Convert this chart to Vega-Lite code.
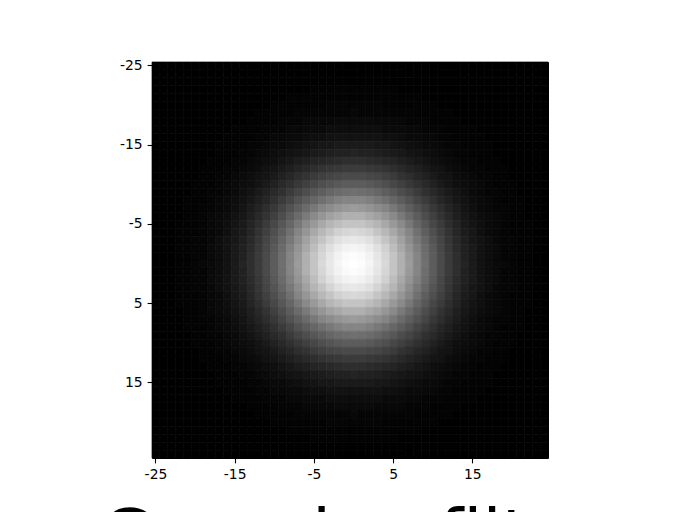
{"$schema":"https://vega.github.io/schema/vega-lite/v6.json","width":396,"height":396,"autosize":{"type":"none"},"padding":{"left":152,"top":62,"right":136,"bottom":54},"background":"white","title":{"text":"Gaussian filter","orient":"bottom","anchor":"middle","font":"DejaVu Sans","fontSize":69,"fontWeight":"normal","color":"black","offset":22},
"data":{"values":[
{"x":-25,"y":-25,"v":0},{"x":-24,"y":-25,"v":0},{"x":-23,"y":-25,"v":0},{"x":-22,"y":-25,"v":0},{"x":-21,"y":-25,"v":0},{"x":-20,"y":-25,"v":0},{"x":-19,"y":-25,"v":0},{"x":-18,"y":-25,"v":0},{"x":-17,"y":-25,"v":0},{"x":-16,"y":-25,"v":0},{"x":-15,"y":-25,"v":0},{"x":-14,"y":-25,"v":0},{"x":-13,"y":-25,"v":0},{"x":-12,"y":-25,"v":0},{"x":-11,"y":-25,"v":0},{"x":-10,"y":-25,"v":0},{"x":-9,"y":-25,"v":0},{"x":-8,"y":-25,"v":0},{"x":-7,"y":-25,"v":0},{"x":-6,"y":-25,"v":0},{"x":-5,"y":-25,"v":0},{"x":-4,"y":-25,"v":0},{"x":-3,"y":-25,"v":0},{"x":-2,"y":-25,"v":0},{"x":-1,"y":-25,"v":0},{"x":0,"y":-25,"v":0},{"x":1,"y":-25,"v":0},{"x":2,"y":-25,"v":0},{"x":3,"y":-25,"v":0},{"x":4,"y":-25,"v":0},{"x":5,"y":-25,"v":0},{"x":6,"y":-25,"v":0},{"x":7,"y":-25,"v":0},{"x":8,"y":-25,"v":0},{"x":9,"y":-25,"v":0},{"x":10,"y":-25,"v":0},{"x":11,"y":-25,"v":0},{"x":12,"y":-25,"v":0},{"x":13,"y":-25,"v":0},{"x":14,"y":-25,"v":0},{"x":15,"y":-25,"v":0},{"x":16,"y":-25,"v":0},{"x":17,"y":-25,"v":0},{"x":18,"y":-25,"v":0},{"x":19,"y":-25,"v":0},{"x":20,"y":-25,"v":0},{"x":21,"y":-25,"v":0},{"x":22,"y":-25,"v":0},{"x":23,"y":-25,"v":0},{"x":24,"y":-25,"v":0},
{"x":-25,"y":-24,"v":0},{"x":-24,"y":-24,"v":0},{"x":-23,"y":-24,"v":0},{"x":-22,"y":-24,"v":0},{"x":-21,"y":-24,"v":0},{"x":-20,"y":-24,"v":0},{"x":-19,"y":-24,"v":0},{"x":-18,"y":-24,"v":0},{"x":-17,"y":-24,"v":0},{"x":-16,"y":-24,"v":0},{"x":-15,"y":-24,"v":0},{"x":-14,"y":-24,"v":0},{"x":-13,"y":-24,"v":0},{"x":-12,"y":-24,"v":0},{"x":-11,"y":-24,"v":0},{"x":-10,"y":-24,"v":0},{"x":-9,"y":-24,"v":0},{"x":-8,"y":-24,"v":0},{"x":-7,"y":-24,"v":0},{"x":-6,"y":-24,"v":0},{"x":-5,"y":-24,"v":0},{"x":-4,"y":-24,"v":0},{"x":-3,"y":-24,"v":0},{"x":-2,"y":-24,"v":0},{"x":-1,"y":-24,"v":0},{"x":0,"y":-24,"v":0},{"x":1,"y":-24,"v":0},{"x":2,"y":-24,"v":0},{"x":3,"y":-24,"v":0},{"x":4,"y":-24,"v":0},{"x":5,"y":-24,"v":0},{"x":6,"y":-24,"v":0},{"x":7,"y":-24,"v":0},{"x":8,"y":-24,"v":0},{"x":9,"y":-24,"v":0},{"x":10,"y":-24,"v":0},{"x":11,"y":-24,"v":0},{"x":12,"y":-24,"v":0},{"x":13,"y":-24,"v":0},{"x":14,"y":-24,"v":0},{"x":15,"y":-24,"v":0},{"x":16,"y":-24,"v":0},{"x":17,"y":-24,"v":0},{"x":18,"y":-24,"v":0},{"x":19,"y":-24,"v":0},{"x":20,"y":-24,"v":0},{"x":21,"y":-24,"v":0},{"x":22,"y":-24,"v":0},{"x":23,"y":-24,"v":0},{"x":24,"y":-24,"v":0},
{"x":-25,"y":-23,"v":0},{"x":-24,"y":-23,"v":0},{"x":-23,"y":-23,"v":0},{"x":-22,"y":-23,"v":0},{"x":-21,"y":-23,"v":0},{"x":-20,"y":-23,"v":0},{"x":-19,"y":-23,"v":0},{"x":-18,"y":-23,"v":0},{"x":-17,"y":-23,"v":0},{"x":-16,"y":-23,"v":0},{"x":-15,"y":-23,"v":0},{"x":-14,"y":-23,"v":0},{"x":-13,"y":-23,"v":0},{"x":-12,"y":-23,"v":0},{"x":-11,"y":-23,"v":0},{"x":-10,"y":-23,"v":0},{"x":-9,"y":-23,"v":0},{"x":-8,"y":-23,"v":0},{"x":-7,"y":-23,"v":0},{"x":-6,"y":-23,"v":0},{"x":-5,"y":-23,"v":0},{"x":-4,"y":-23,"v":0},{"x":-3,"y":-23,"v":0},{"x":-2,"y":-23,"v":0},{"x":-1,"y":-23,"v":0},{"x":0,"y":-23,"v":0},{"x":1,"y":-23,"v":0},{"x":2,"y":-23,"v":0},{"x":3,"y":-23,"v":0},{"x":4,"y":-23,"v":0},{"x":5,"y":-23,"v":0},{"x":6,"y":-23,"v":0},{"x":7,"y":-23,"v":0},{"x":8,"y":-23,"v":0},{"x":9,"y":-23,"v":0},{"x":10,"y":-23,"v":0},{"x":11,"y":-23,"v":0},{"x":12,"y":-23,"v":0},{"x":13,"y":-23,"v":0},{"x":14,"y":-23,"v":0},{"x":15,"y":-23,"v":0},{"x":16,"y":-23,"v":0},{"x":17,"y":-23,"v":0},{"x":18,"y":-23,"v":0},{"x":19,"y":-23,"v":0},{"x":20,"y":-23,"v":0},{"x":21,"y":-23,"v":0},{"x":22,"y":-23,"v":0},{"x":23,"y":-23,"v":0},{"x":24,"y":-23,"v":0},
{"x":-25,"y":-22,"v":0},{"x":-24,"y":-22,"v":0},{"x":-23,"y":-22,"v":0},{"x":-22,"y":-22,"v":0},{"x":-21,"y":-22,"v":0},{"x":-20,"y":-22,"v":0},{"x":-19,"y":-22,"v":0},{"x":-18,"y":-22,"v":0},{"x":-17,"y":-22,"v":0},{"x":-16,"y":-22,"v":0},{"x":-15,"y":-22,"v":0},{"x":-14,"y":-22,"v":0},{"x":-13,"y":-22,"v":0},{"x":-12,"y":-22,"v":0},{"x":-11,"y":-22,"v":0},{"x":-10,"y":-22,"v":0},{"x":-9,"y":-22,"v":0},{"x":-8,"y":-22,"v":0},{"x":-7,"y":-22,"v":0},{"x":-6,"y":-22,"v":0},{"x":-5,"y":-22,"v":1},{"x":-4,"y":-22,"v":1},{"x":-3,"y":-22,"v":1},{"x":-2,"y":-22,"v":1},{"x":-1,"y":-22,"v":1},{"x":0,"y":-22,"v":1},{"x":1,"y":-22,"v":1},{"x":2,"y":-22,"v":1},{"x":3,"y":-22,"v":1},{"x":4,"y":-22,"v":1},{"x":5,"y":-22,"v":1},{"x":6,"y":-22,"v":0},{"x":7,"y":-22,"v":0},{"x":8,"y":-22,"v":0},{"x":9,"y":-22,"v":0},{"x":10,"y":-22,"v":0},{"x":11,"y":-22,"v":0},{"x":12,"y":-22,"v":0},{"x":13,"y":-22,"v":0},{"x":14,"y":-22,"v":0},{"x":15,"y":-22,"v":0},{"x":16,"y":-22,"v":0},{"x":17,"y":-22,"v":0},{"x":18,"y":-22,"v":0},{"x":19,"y":-22,"v":0},{"x":20,"y":-22,"v":0},{"x":21,"y":-22,"v":0},{"x":22,"y":-22,"v":0},{"x":23,"y":-22,"v":0},{"x":24,"y":-22,"v":0},
{"x":-25,"y":-21,"v":0},{"x":-24,"y":-21,"v":0},{"x":-23,"y":-21,"v":0},{"x":-22,"y":-21,"v":0},{"x":-21,"y":-21,"v":0},{"x":-20,"y":-21,"v":0},{"x":-19,"y":-21,"v":0},{"x":-18,"y":-21,"v":0},{"x":-17,"y":-21,"v":0},{"x":-16,"y":-21,"v":0},{"x":-15,"y":-21,"v":0},{"x":-14,"y":-21,"v":0},{"x":-13,"y":-21,"v":0},{"x":-12,"y":-21,"v":0},{"x":-11,"y":-21,"v":0},{"x":-10,"y":-21,"v":0},{"x":-9,"y":-21,"v":0},{"x":-8,"y":-21,"v":1},{"x":-7,"y":-21,"v":1},{"x":-6,"y":-21,"v":1},{"x":-5,"y":-21,"v":1},{"x":-4,"y":-21,"v":1},{"x":-3,"y":-21,"v":1},{"x":-2,"y":-21,"v":1},{"x":-1,"y":-21,"v":1},{"x":0,"y":-21,"v":1},{"x":1,"y":-21,"v":1},{"x":2,"y":-21,"v":1},{"x":3,"y":-21,"v":1},{"x":4,"y":-21,"v":1},{"x":5,"y":-21,"v":1},{"x":6,"y":-21,"v":1},{"x":7,"y":-21,"v":1},{"x":8,"y":-21,"v":1},{"x":9,"y":-21,"v":0},{"x":10,"y":-21,"v":0},{"x":11,"y":-21,"v":0},{"x":12,"y":-21,"v":0},{"x":13,"y":-21,"v":0},{"x":14,"y":-21,"v":0},{"x":15,"y":-21,"v":0},{"x":16,"y":-21,"v":0},{"x":17,"y":-21,"v":0},{"x":18,"y":-21,"v":0},{"x":19,"y":-21,"v":0},{"x":20,"y":-21,"v":0},{"x":21,"y":-21,"v":0},{"x":22,"y":-21,"v":0},{"x":23,"y":-21,"v":0},{"x":24,"y":-21,"v":0},
{"x":-25,"y":-20,"v":0},{"x":-24,"y":-20,"v":0},{"x":-23,"y":-20,"v":0},{"x":-22,"y":-20,"v":0},{"x":-21,"y":-20,"v":0},{"x":-20,"y":-20,"v":0},{"x":-19,"y":-20,"v":0},{"x":-18,"y":-20,"v":0},{"x":-17,"y":-20,"v":0},{"x":-16,"y":-20,"v":0},{"x":-15,"y":-20,"v":0},{"x":-14,"y":-20,"v":0},{"x":-13,"y":-20,"v":0},{"x":-12,"y":-20,"v":0},{"x":-11,"y":-20,"v":0},{"x":-10,"y":-20,"v":1},{"x":-9,"y":-20,"v":1},{"x":-8,"y":-20,"v":1},{"x":-7,"y":-20,"v":1},{"x":-6,"y":-20,"v":1},{"x":-5,"y":-20,"v":1},{"x":-4,"y":-20,"v":1},{"x":-3,"y":-20,"v":2},{"x":-2,"y":-20,"v":2},{"x":-1,"y":-20,"v":2},{"x":0,"y":-20,"v":2},{"x":1,"y":-20,"v":2},{"x":2,"y":-20,"v":2},{"x":3,"y":-20,"v":2},{"x":4,"y":-20,"v":1},{"x":5,"y":-20,"v":1},{"x":6,"y":-20,"v":1},{"x":7,"y":-20,"v":1},{"x":8,"y":-20,"v":1},{"x":9,"y":-20,"v":1},{"x":10,"y":-20,"v":1},{"x":11,"y":-20,"v":0},{"x":12,"y":-20,"v":0},{"x":13,"y":-20,"v":0},{"x":14,"y":-20,"v":0},{"x":15,"y":-20,"v":0},{"x":16,"y":-20,"v":0},{"x":17,"y":-20,"v":0},{"x":18,"y":-20,"v":0},{"x":19,"y":-20,"v":0},{"x":20,"y":-20,"v":0},{"x":21,"y":-20,"v":0},{"x":22,"y":-20,"v":0},{"x":23,"y":-20,"v":0},{"x":24,"y":-20,"v":0},
{"x":-25,"y":-19,"v":0},{"x":-24,"y":-19,"v":0},{"x":-23,"y":-19,"v":0},{"x":-22,"y":-19,"v":0},{"x":-21,"y":-19,"v":0},{"x":-20,"y":-19,"v":0},{"x":-19,"y":-19,"v":0},{"x":-18,"y":-19,"v":0},{"x":-17,"y":-19,"v":0},{"x":-16,"y":-19,"v":0},{"x":-15,"y":-19,"v":0},{"x":-14,"y":-19,"v":0},{"x":-13,"y":-19,"v":0},{"x":-12,"y":-19,"v":1},{"x":-11,"y":-19,"v":1},{"x":-10,"y":-19,"v":1},{"x":-9,"y":-19,"v":1},{"x":-8,"y":-19,"v":1},{"x":-7,"y":-19,"v":2},{"x":-6,"y":-19,"v":2},{"x":-5,"y":-19,"v":2},{"x":-4,"y":-19,"v":2},{"x":-3,"y":-19,"v":2},{"x":-2,"y":-19,"v":2},{"x":-1,"y":-19,"v":2},{"x":0,"y":-19,"v":3},{"x":1,"y":-19,"v":2},{"x":2,"y":-19,"v":2},{"x":3,"y":-19,"v":2},{"x":4,"y":-19,"v":2},{"x":5,"y":-19,"v":2},{"x":6,"y":-19,"v":2},{"x":7,"y":-19,"v":2},{"x":8,"y":-19,"v":1},{"x":9,"y":-19,"v":1},{"x":10,"y":-19,"v":1},{"x":11,"y":-19,"v":1},{"x":12,"y":-19,"v":1},{"x":13,"y":-19,"v":0},{"x":14,"y":-19,"v":0},{"x":15,"y":-19,"v":0},{"x":16,"y":-19,"v":0},{"x":17,"y":-19,"v":0},{"x":18,"y":-19,"v":0},{"x":19,"y":-19,"v":0},{"x":20,"y":-19,"v":0},{"x":21,"y":-19,"v":0},{"x":22,"y":-19,"v":0},{"x":23,"y":-19,"v":0},{"x":24,"y":-19,"v":0},
{"x":-25,"y":-18,"v":0},{"x":-24,"y":-18,"v":0},{"x":-23,"y":-18,"v":0},{"x":-22,"y":-18,"v":0},{"x":-21,"y":-18,"v":0},{"x":-20,"y":-18,"v":0},{"x":-19,"y":-18,"v":0},{"x":-18,"y":-18,"v":0},{"x":-17,"y":-18,"v":0},{"x":-16,"y":-18,"v":0},{"x":-15,"y":-18,"v":0},{"x":-14,"y":-18,"v":0},{"x":-13,"y":-18,"v":1},{"x":-12,"y":-18,"v":1},{"x":-11,"y":-18,"v":1},{"x":-10,"y":-18,"v":1},{"x":-9,"y":-18,"v":2},{"x":-8,"y":-18,"v":2},{"x":-7,"y":-18,"v":2},{"x":-6,"y":-18,"v":3},{"x":-5,"y":-18,"v":3},{"x":-4,"y":-18,"v":3},{"x":-3,"y":-18,"v":3},{"x":-2,"y":-18,"v":4},{"x":-1,"y":-18,"v":4},{"x":0,"y":-18,"v":4},{"x":1,"y":-18,"v":4},{"x":2,"y":-18,"v":4},{"x":3,"y":-18,"v":3},{"x":4,"y":-18,"v":3},{"x":5,"y":-18,"v":3},{"x":6,"y":-18,"v":3},{"x":7,"y":-18,"v":2},{"x":8,"y":-18,"v":2},{"x":9,"y":-18,"v":2},{"x":10,"y":-18,"v":1},{"x":11,"y":-18,"v":1},{"x":12,"y":-18,"v":1},{"x":13,"y":-18,"v":1},{"x":14,"y":-18,"v":0},{"x":15,"y":-18,"v":0},{"x":16,"y":-18,"v":0},{"x":17,"y":-18,"v":0},{"x":18,"y":-18,"v":0},{"x":19,"y":-18,"v":0},{"x":20,"y":-18,"v":0},{"x":21,"y":-18,"v":0},{"x":22,"y":-18,"v":0},{"x":23,"y":-18,"v":0},{"x":24,"y":-18,"v":0},
{"x":-25,"y":-17,"v":0},{"x":-24,"y":-17,"v":0},{"x":-23,"y":-17,"v":0},{"x":-22,"y":-17,"v":0},{"x":-21,"y":-17,"v":0},{"x":-20,"y":-17,"v":0},{"x":-19,"y":-17,"v":0},{"x":-18,"y":-17,"v":0},{"x":-17,"y":-17,"v":0},{"x":-16,"y":-17,"v":0},{"x":-15,"y":-17,"v":1},{"x":-14,"y":-17,"v":1},{"x":-13,"y":-17,"v":1},{"x":-12,"y":-17,"v":1},{"x":-11,"y":-17,"v":2},{"x":-10,"y":-17,"v":2},{"x":-9,"y":-17,"v":2},{"x":-8,"y":-17,"v":3},{"x":-7,"y":-17,"v":3},{"x":-6,"y":-17,"v":4},{"x":-5,"y":-17,"v":4},{"x":-4,"y":-17,"v":4},{"x":-3,"y":-17,"v":5},{"x":-2,"y":-17,"v":5},{"x":-1,"y":-17,"v":5},{"x":0,"y":-17,"v":5},{"x":1,"y":-17,"v":5},{"x":2,"y":-17,"v":5},{"x":3,"y":-17,"v":5},{"x":4,"y":-17,"v":4},{"x":5,"y":-17,"v":4},{"x":6,"y":-17,"v":4},{"x":7,"y":-17,"v":3},{"x":8,"y":-17,"v":3},{"x":9,"y":-17,"v":2},{"x":10,"y":-17,"v":2},{"x":11,"y":-17,"v":2},{"x":12,"y":-17,"v":1},{"x":13,"y":-17,"v":1},{"x":14,"y":-17,"v":1},{"x":15,"y":-17,"v":1},{"x":16,"y":-17,"v":0},{"x":17,"y":-17,"v":0},{"x":18,"y":-17,"v":0},{"x":19,"y":-17,"v":0},{"x":20,"y":-17,"v":0},{"x":21,"y":-17,"v":0},{"x":22,"y":-17,"v":0},{"x":23,"y":-17,"v":0},{"x":24,"y":-17,"v":0},
{"x":-25,"y":-16,"v":0},{"x":-24,"y":-16,"v":0},{"x":-23,"y":-16,"v":0},{"x":-22,"y":-16,"v":0},{"x":-21,"y":-16,"v":0},{"x":-20,"y":-16,"v":0},{"x":-19,"y":-16,"v":0},{"x":-18,"y":-16,"v":0},{"x":-17,"y":-16,"v":0},{"x":-16,"y":-16,"v":1},{"x":-15,"y":-16,"v":1},{"x":-14,"y":-16,"v":1},{"x":-13,"y":-16,"v":1},{"x":-12,"y":-16,"v":2},{"x":-11,"y":-16,"v":2},{"x":-10,"y":-16,"v":3},{"x":-9,"y":-16,"v":3},{"x":-8,"y":-16,"v":4},{"x":-7,"y":-16,"v":4},{"x":-6,"y":-16,"v":5},{"x":-5,"y":-16,"v":6},{"x":-4,"y":-16,"v":6},{"x":-3,"y":-16,"v":7},{"x":-2,"y":-16,"v":7},{"x":-1,"y":-16,"v":7},{"x":0,"y":-16,"v":7},{"x":1,"y":-16,"v":7},{"x":2,"y":-16,"v":7},{"x":3,"y":-16,"v":7},{"x":4,"y":-16,"v":6},{"x":5,"y":-16,"v":6},{"x":6,"y":-16,"v":5},{"x":7,"y":-16,"v":4},{"x":8,"y":-16,"v":4},{"x":9,"y":-16,"v":3},{"x":10,"y":-16,"v":3},{"x":11,"y":-16,"v":2},{"x":12,"y":-16,"v":2},{"x":13,"y":-16,"v":1},{"x":14,"y":-16,"v":1},{"x":15,"y":-16,"v":1},{"x":16,"y":-16,"v":1},{"x":17,"y":-16,"v":0},{"x":18,"y":-16,"v":0},{"x":19,"y":-16,"v":0},{"x":20,"y":-16,"v":0},{"x":21,"y":-16,"v":0},{"x":22,"y":-16,"v":0},{"x":23,"y":-16,"v":0},{"x":24,"y":-16,"v":0},
{"x":-25,"y":-15,"v":0},{"x":-24,"y":-15,"v":0},{"x":-23,"y":-15,"v":0},{"x":-22,"y":-15,"v":0},{"x":-21,"y":-15,"v":0},{"x":-20,"y":-15,"v":0},{"x":-19,"y":-15,"v":0},{"x":-18,"y":-15,"v":0},{"x":-17,"y":-15,"v":1},{"x":-16,"y":-15,"v":1},{"x":-15,"y":-15,"v":1},{"x":-14,"y":-15,"v":1},{"x":-13,"y":-15,"v":2},{"x":-12,"y":-15,"v":2},{"x":-11,"y":-15,"v":3},{"x":-10,"y":-15,"v":4},{"x":-9,"y":-15,"v":4},{"x":-8,"y":-15,"v":5},{"x":-7,"y":-15,"v":6},{"x":-6,"y":-15,"v":7},{"x":-5,"y":-15,"v":8},{"x":-4,"y":-15,"v":9},{"x":-3,"y":-15,"v":9},{"x":-2,"y":-15,"v":10},{"x":-1,"y":-15,"v":10},{"x":0,"y":-15,"v":10},{"x":1,"y":-15,"v":10},{"x":2,"y":-15,"v":10},{"x":3,"y":-15,"v":9},{"x":4,"y":-15,"v":9},{"x":5,"y":-15,"v":8},{"x":6,"y":-15,"v":7},{"x":7,"y":-15,"v":6},{"x":8,"y":-15,"v":5},{"x":9,"y":-15,"v":4},{"x":10,"y":-15,"v":4},{"x":11,"y":-15,"v":3},{"x":12,"y":-15,"v":2},{"x":13,"y":-15,"v":2},{"x":14,"y":-15,"v":1},{"x":15,"y":-15,"v":1},{"x":16,"y":-15,"v":1},{"x":17,"y":-15,"v":1},{"x":18,"y":-15,"v":0},{"x":19,"y":-15,"v":0},{"x":20,"y":-15,"v":0},{"x":21,"y":-15,"v":0},{"x":22,"y":-15,"v":0},{"x":23,"y":-15,"v":0},{"x":24,"y":-15,"v":0},
{"x":-25,"y":-14,"v":0},{"x":-24,"y":-14,"v":0},{"x":-23,"y":-14,"v":0},{"x":-22,"y":-14,"v":0},{"x":-21,"y":-14,"v":0},{"x":-20,"y":-14,"v":0},{"x":-19,"y":-14,"v":0},{"x":-18,"y":-14,"v":0},{"x":-17,"y":-14,"v":1},{"x":-16,"y":-14,"v":1},{"x":-15,"y":-14,"v":1},{"x":-14,"y":-14,"v":2},{"x":-13,"y":-14,"v":2},{"x":-12,"y":-14,"v":3},{"x":-11,"y":-14,"v":4},{"x":-10,"y":-14,"v":5},{"x":-9,"y":-14,"v":6},{"x":-8,"y":-14,"v":7},{"x":-7,"y":-14,"v":8},{"x":-6,"y":-14,"v":9},{"x":-5,"y":-14,"v":10},{"x":-4,"y":-14,"v":11},{"x":-3,"y":-14,"v":12},{"x":-2,"y":-14,"v":13},{"x":-1,"y":-14,"v":13},{"x":0,"y":-14,"v":14},{"x":1,"y":-14,"v":13},{"x":2,"y":-14,"v":13},{"x":3,"y":-14,"v":12},{"x":4,"y":-14,"v":11},{"x":5,"y":-14,"v":10},{"x":6,"y":-14,"v":9},{"x":7,"y":-14,"v":8},{"x":8,"y":-14,"v":7},{"x":9,"y":-14,"v":6},{"x":10,"y":-14,"v":5},{"x":11,"y":-14,"v":4},{"x":12,"y":-14,"v":3},{"x":13,"y":-14,"v":2},{"x":14,"y":-14,"v":2},{"x":15,"y":-14,"v":1},{"x":16,"y":-14,"v":1},{"x":17,"y":-14,"v":1},{"x":18,"y":-14,"v":0},{"x":19,"y":-14,"v":0},{"x":20,"y":-14,"v":0},{"x":21,"y":-14,"v":0},{"x":22,"y":-14,"v":0},{"x":23,"y":-14,"v":0},{"x":24,"y":-14,"v":0},
{"x":-25,"y":-13,"v":0},{"x":-24,"y":-13,"v":0},{"x":-23,"y":-13,"v":0},{"x":-22,"y":-13,"v":0},{"x":-21,"y":-13,"v":0},{"x":-20,"y":-13,"v":0},{"x":-19,"y":-13,"v":0},{"x":-18,"y":-13,"v":1},{"x":-17,"y":-13,"v":1},{"x":-16,"y":-13,"v":1},{"x":-15,"y":-13,"v":2},{"x":-14,"y":-13,"v":2},{"x":-13,"y":-13,"v":3},{"x":-12,"y":-13,"v":4},{"x":-11,"y":-13,"v":5},{"x":-10,"y":-13,"v":6},{"x":-9,"y":-13,"v":8},{"x":-8,"y":-13,"v":9},{"x":-7,"y":-13,"v":11},{"x":-6,"y":-13,"v":12},{"x":-5,"y":-13,"v":14},{"x":-4,"y":-13,"v":15},{"x":-3,"y":-13,"v":16},{"x":-2,"y":-13,"v":17},{"x":-1,"y":-13,"v":18},{"x":0,"y":-13,"v":18},{"x":1,"y":-13,"v":18},{"x":2,"y":-13,"v":17},{"x":3,"y":-13,"v":16},{"x":4,"y":-13,"v":15},{"x":5,"y":-13,"v":14},{"x":6,"y":-13,"v":12},{"x":7,"y":-13,"v":11},{"x":8,"y":-13,"v":9},{"x":9,"y":-13,"v":8},{"x":10,"y":-13,"v":6},{"x":11,"y":-13,"v":5},{"x":12,"y":-13,"v":4},{"x":13,"y":-13,"v":3},{"x":14,"y":-13,"v":2},{"x":15,"y":-13,"v":2},{"x":16,"y":-13,"v":1},{"x":17,"y":-13,"v":1},{"x":18,"y":-13,"v":1},{"x":19,"y":-13,"v":0},{"x":20,"y":-13,"v":0},{"x":21,"y":-13,"v":0},{"x":22,"y":-13,"v":0},{"x":23,"y":-13,"v":0},{"x":24,"y":-13,"v":0},
{"x":-25,"y":-12,"v":0},{"x":-24,"y":-12,"v":0},{"x":-23,"y":-12,"v":0},{"x":-22,"y":-12,"v":0},{"x":-21,"y":-12,"v":0},{"x":-20,"y":-12,"v":0},{"x":-19,"y":-12,"v":1},{"x":-18,"y":-12,"v":1},{"x":-17,"y":-12,"v":1},{"x":-16,"y":-12,"v":2},{"x":-15,"y":-12,"v":2},{"x":-14,"y":-12,"v":3},{"x":-13,"y":-12,"v":4},{"x":-12,"y":-12,"v":5},{"x":-11,"y":-12,"v":7},{"x":-10,"y":-12,"v":8},{"x":-9,"y":-12,"v":10},{"x":-8,"y":-12,"v":12},{"x":-7,"y":-12,"v":14},{"x":-6,"y":-12,"v":16},{"x":-5,"y":-12,"v":18},{"x":-4,"y":-12,"v":20},{"x":-3,"y":-12,"v":21},{"x":-2,"y":-12,"v":22},{"x":-1,"y":-12,"v":23},{"x":0,"y":-12,"v":23},{"x":1,"y":-12,"v":23},{"x":2,"y":-12,"v":22},{"x":3,"y":-12,"v":21},{"x":4,"y":-12,"v":20},{"x":5,"y":-12,"v":18},{"x":6,"y":-12,"v":16},{"x":7,"y":-12,"v":14},{"x":8,"y":-12,"v":12},{"x":9,"y":-12,"v":10},{"x":10,"y":-12,"v":8},{"x":11,"y":-12,"v":7},{"x":12,"y":-12,"v":5},{"x":13,"y":-12,"v":4},{"x":14,"y":-12,"v":3},{"x":15,"y":-12,"v":2},{"x":16,"y":-12,"v":2},{"x":17,"y":-12,"v":1},{"x":18,"y":-12,"v":1},{"x":19,"y":-12,"v":1},{"x":20,"y":-12,"v":0},{"x":21,"y":-12,"v":0},{"x":22,"y":-12,"v":0},{"x":23,"y":-12,"v":0},{"x":24,"y":-12,"v":0},
{"x":-25,"y":-11,"v":0},{"x":-24,"y":-11,"v":0},{"x":-23,"y":-11,"v":0},{"x":-22,"y":-11,"v":0},{"x":-21,"y":-11,"v":0},{"x":-20,"y":-11,"v":0},{"x":-19,"y":-11,"v":1},{"x":-18,"y":-11,"v":1},{"x":-17,"y":-11,"v":2},{"x":-16,"y":-11,"v":2},{"x":-15,"y":-11,"v":3},{"x":-14,"y":-11,"v":4},{"x":-13,"y":-11,"v":5},{"x":-12,"y":-11,"v":7},{"x":-11,"y":-11,"v":8},{"x":-10,"y":-11,"v":10},{"x":-9,"y":-11,"v":13},{"x":-8,"y":-11,"v":15},{"x":-7,"y":-11,"v":18},{"x":-6,"y":-11,"v":20},{"x":-5,"y":-11,"v":23},{"x":-4,"y":-11,"v":25},{"x":-3,"y":-11,"v":27},{"x":-2,"y":-11,"v":28},{"x":-1,"y":-11,"v":29},{"x":0,"y":-11,"v":29},{"x":1,"y":-11,"v":29},{"x":2,"y":-11,"v":28},{"x":3,"y":-11,"v":27},{"x":4,"y":-11,"v":25},{"x":5,"y":-11,"v":23},{"x":6,"y":-11,"v":20},{"x":7,"y":-11,"v":18},{"x":8,"y":-11,"v":15},{"x":9,"y":-11,"v":13},{"x":10,"y":-11,"v":10},{"x":11,"y":-11,"v":8},{"x":12,"y":-11,"v":7},{"x":13,"y":-11,"v":5},{"x":14,"y":-11,"v":4},{"x":15,"y":-11,"v":3},{"x":16,"y":-11,"v":2},{"x":17,"y":-11,"v":2},{"x":18,"y":-11,"v":1},{"x":19,"y":-11,"v":1},{"x":20,"y":-11,"v":0},{"x":21,"y":-11,"v":0},{"x":22,"y":-11,"v":0},{"x":23,"y":-11,"v":0},{"x":24,"y":-11,"v":0},
{"x":-25,"y":-10,"v":0},{"x":-24,"y":-10,"v":0},{"x":-23,"y":-10,"v":0},{"x":-22,"y":-10,"v":0},{"x":-21,"y":-10,"v":0},{"x":-20,"y":-10,"v":1},{"x":-19,"y":-10,"v":1},{"x":-18,"y":-10,"v":1},{"x":-17,"y":-10,"v":2},{"x":-16,"y":-10,"v":3},{"x":-15,"y":-10,"v":4},{"x":-14,"y":-10,"v":5},{"x":-13,"y":-10,"v":6},{"x":-12,"y":-10,"v":8},{"x":-11,"y":-10,"v":10},{"x":-10,"y":-10,"v":13},{"x":-9,"y":-10,"v":16},{"x":-8,"y":-10,"v":19},{"x":-7,"y":-10,"v":22},{"x":-6,"y":-10,"v":25},{"x":-5,"y":-10,"v":28},{"x":-4,"y":-10,"v":31},{"x":-3,"y":-10,"v":33},{"x":-2,"y":-10,"v":35},{"x":-1,"y":-10,"v":36},{"x":0,"y":-10,"v":36},{"x":1,"y":-10,"v":36},{"x":2,"y":-10,"v":35},{"x":3,"y":-10,"v":33},{"x":4,"y":-10,"v":31},{"x":5,"y":-10,"v":28},{"x":6,"y":-10,"v":25},{"x":7,"y":-10,"v":22},{"x":8,"y":-10,"v":19},{"x":9,"y":-10,"v":16},{"x":10,"y":-10,"v":13},{"x":11,"y":-10,"v":10},{"x":12,"y":-10,"v":8},{"x":13,"y":-10,"v":6},{"x":14,"y":-10,"v":5},{"x":15,"y":-10,"v":4},{"x":16,"y":-10,"v":3},{"x":17,"y":-10,"v":2},{"x":18,"y":-10,"v":1},{"x":19,"y":-10,"v":1},{"x":20,"y":-10,"v":1},{"x":21,"y":-10,"v":0},{"x":22,"y":-10,"v":0},{"x":23,"y":-10,"v":0},{"x":24,"y":-10,"v":0},
{"x":-25,"y":-9,"v":0},{"x":-24,"y":-9,"v":0},{"x":-23,"y":-9,"v":0},{"x":-22,"y":-9,"v":0},{"x":-21,"y":-9,"v":0},{"x":-20,"y":-9,"v":1},{"x":-19,"y":-9,"v":1},{"x":-18,"y":-9,"v":2},{"x":-17,"y":-9,"v":2},{"x":-16,"y":-9,"v":3},{"x":-15,"y":-9,"v":4},{"x":-14,"y":-9,"v":6},{"x":-13,"y":-9,"v":8},{"x":-12,"y":-9,"v":10},{"x":-11,"y":-9,"v":13},{"x":-10,"y":-9,"v":16},{"x":-9,"y":-9,"v":19},{"x":-8,"y":-9,"v":23},{"x":-7,"y":-9,"v":27},{"x":-6,"y":-9,"v":30},{"x":-5,"y":-9,"v":34},{"x":-4,"y":-9,"v":37},{"x":-3,"y":-9,"v":40},{"x":-2,"y":-9,"v":42},{"x":-1,"y":-9,"v":43},{"x":0,"y":-9,"v":44},{"x":1,"y":-9,"v":43},{"x":2,"y":-9,"v":42},{"x":3,"y":-9,"v":40},{"x":4,"y":-9,"v":37},{"x":5,"y":-9,"v":34},{"x":6,"y":-9,"v":30},{"x":7,"y":-9,"v":27},{"x":8,"y":-9,"v":23},{"x":9,"y":-9,"v":19},{"x":10,"y":-9,"v":16},{"x":11,"y":-9,"v":13},{"x":12,"y":-9,"v":10},{"x":13,"y":-9,"v":8},{"x":14,"y":-9,"v":6},{"x":15,"y":-9,"v":4},{"x":16,"y":-9,"v":3},{"x":17,"y":-9,"v":2},{"x":18,"y":-9,"v":2},{"x":19,"y":-9,"v":1},{"x":20,"y":-9,"v":1},{"x":21,"y":-9,"v":0},{"x":22,"y":-9,"v":0},{"x":23,"y":-9,"v":0},{"x":24,"y":-9,"v":0},
{"x":-25,"y":-8,"v":0},{"x":-24,"y":-8,"v":0},{"x":-23,"y":-8,"v":0},{"x":-22,"y":-8,"v":0},{"x":-21,"y":-8,"v":1},{"x":-20,"y":-8,"v":1},{"x":-19,"y":-8,"v":1},{"x":-18,"y":-8,"v":2},{"x":-17,"y":-8,"v":3},{"x":-16,"y":-8,"v":4},{"x":-15,"y":-8,"v":5},{"x":-14,"y":-8,"v":7},{"x":-13,"y":-8,"v":9},{"x":-12,"y":-8,"v":12},{"x":-11,"y":-8,"v":15},{"x":-10,"y":-8,"v":19},{"x":-9,"y":-8,"v":23},{"x":-8,"y":-8,"v":27},{"x":-7,"y":-8,"v":32},{"x":-6,"y":-8,"v":36},{"x":-5,"y":-8,"v":40},{"x":-4,"y":-8,"v":44},{"x":-3,"y":-8,"v":47},{"x":-2,"y":-8,"v":50},{"x":-1,"y":-8,"v":52},{"x":0,"y":-8,"v":52},{"x":1,"y":-8,"v":52},{"x":2,"y":-8,"v":50},{"x":3,"y":-8,"v":47},{"x":4,"y":-8,"v":44},{"x":5,"y":-8,"v":40},{"x":6,"y":-8,"v":36},{"x":7,"y":-8,"v":32},{"x":8,"y":-8,"v":27},{"x":9,"y":-8,"v":23},{"x":10,"y":-8,"v":19},{"x":11,"y":-8,"v":15},{"x":12,"y":-8,"v":12},{"x":13,"y":-8,"v":9},{"x":14,"y":-8,"v":7},{"x":15,"y":-8,"v":5},{"x":16,"y":-8,"v":4},{"x":17,"y":-8,"v":3},{"x":18,"y":-8,"v":2},{"x":19,"y":-8,"v":1},{"x":20,"y":-8,"v":1},{"x":21,"y":-8,"v":1},{"x":22,"y":-8,"v":0},{"x":23,"y":-8,"v":0},{"x":24,"y":-8,"v":0},
{"x":-25,"y":-7,"v":0},{"x":-24,"y":-7,"v":0},{"x":-23,"y":-7,"v":0},{"x":-22,"y":-7,"v":0},{"x":-21,"y":-7,"v":1},{"x":-20,"y":-7,"v":1},{"x":-19,"y":-7,"v":2},{"x":-18,"y":-7,"v":2},{"x":-17,"y":-7,"v":3},{"x":-16,"y":-7,"v":4},{"x":-15,"y":-7,"v":6},{"x":-14,"y":-7,"v":8},{"x":-13,"y":-7,"v":11},{"x":-12,"y":-7,"v":14},{"x":-11,"y":-7,"v":18},{"x":-10,"y":-7,"v":22},{"x":-9,"y":-7,"v":27},{"x":-8,"y":-7,"v":32},{"x":-7,"y":-7,"v":37},{"x":-6,"y":-7,"v":42},{"x":-5,"y":-7,"v":47},{"x":-4,"y":-7,"v":52},{"x":-3,"y":-7,"v":55},{"x":-2,"y":-7,"v":58},{"x":-1,"y":-7,"v":60},{"x":0,"y":-7,"v":61},{"x":1,"y":-7,"v":60},{"x":2,"y":-7,"v":58},{"x":3,"y":-7,"v":55},{"x":4,"y":-7,"v":52},{"x":5,"y":-7,"v":47},{"x":6,"y":-7,"v":42},{"x":7,"y":-7,"v":37},{"x":8,"y":-7,"v":32},{"x":9,"y":-7,"v":27},{"x":10,"y":-7,"v":22},{"x":11,"y":-7,"v":18},{"x":12,"y":-7,"v":14},{"x":13,"y":-7,"v":11},{"x":14,"y":-7,"v":8},{"x":15,"y":-7,"v":6},{"x":16,"y":-7,"v":4},{"x":17,"y":-7,"v":3},{"x":18,"y":-7,"v":2},{"x":19,"y":-7,"v":2},{"x":20,"y":-7,"v":1},{"x":21,"y":-7,"v":1},{"x":22,"y":-7,"v":0},{"x":23,"y":-7,"v":0},{"x":24,"y":-7,"v":0},
{"x":-25,"y":-6,"v":0},{"x":-24,"y":-6,"v":0},{"x":-23,"y":-6,"v":0},{"x":-22,"y":-6,"v":0},{"x":-21,"y":-6,"v":1},{"x":-20,"y":-6,"v":1},{"x":-19,"y":-6,"v":2},{"x":-18,"y":-6,"v":3},{"x":-17,"y":-6,"v":4},{"x":-16,"y":-6,"v":5},{"x":-15,"y":-6,"v":7},{"x":-14,"y":-6,"v":9},{"x":-13,"y":-6,"v":12},{"x":-12,"y":-6,"v":16},{"x":-11,"y":-6,"v":20},{"x":-10,"y":-6,"v":25},{"x":-9,"y":-6,"v":30},{"x":-8,"y":-6,"v":36},{"x":-7,"y":-6,"v":42},{"x":-6,"y":-6,"v":48},{"x":-5,"y":-6,"v":54},{"x":-4,"y":-6,"v":59},{"x":-3,"y":-6,"v":63},{"x":-2,"y":-6,"v":66},{"x":-1,"y":-6,"v":69},{"x":0,"y":-6,"v":69},{"x":1,"y":-6,"v":69},{"x":2,"y":-6,"v":66},{"x":3,"y":-6,"v":63},{"x":4,"y":-6,"v":59},{"x":5,"y":-6,"v":54},{"x":6,"y":-6,"v":48},{"x":7,"y":-6,"v":42},{"x":8,"y":-6,"v":36},{"x":9,"y":-6,"v":30},{"x":10,"y":-6,"v":25},{"x":11,"y":-6,"v":20},{"x":12,"y":-6,"v":16},{"x":13,"y":-6,"v":12},{"x":14,"y":-6,"v":9},{"x":15,"y":-6,"v":7},{"x":16,"y":-6,"v":5},{"x":17,"y":-6,"v":4},{"x":18,"y":-6,"v":3},{"x":19,"y":-6,"v":2},{"x":20,"y":-6,"v":1},{"x":21,"y":-6,"v":1},{"x":22,"y":-6,"v":0},{"x":23,"y":-6,"v":0},{"x":24,"y":-6,"v":0},
{"x":-25,"y":-5,"v":0},{"x":-24,"y":-5,"v":0},{"x":-23,"y":-5,"v":0},{"x":-22,"y":-5,"v":1},{"x":-21,"y":-5,"v":1},{"x":-20,"y":-5,"v":1},{"x":-19,"y":-5,"v":2},{"x":-18,"y":-5,"v":3},{"x":-17,"y":-5,"v":4},{"x":-16,"y":-5,"v":6},{"x":-15,"y":-5,"v":8},{"x":-14,"y":-5,"v":10},{"x":-13,"y":-5,"v":14},{"x":-12,"y":-5,"v":18},{"x":-11,"y":-5,"v":23},{"x":-10,"y":-5,"v":28},{"x":-9,"y":-5,"v":34},{"x":-8,"y":-5,"v":40},{"x":-7,"y":-5,"v":47},{"x":-6,"y":-5,"v":54},{"x":-5,"y":-5,"v":60},{"x":-4,"y":-5,"v":66},{"x":-3,"y":-5,"v":71},{"x":-2,"y":-5,"v":74},{"x":-1,"y":-5,"v":77},{"x":0,"y":-5,"v":77},{"x":1,"y":-5,"v":77},{"x":2,"y":-5,"v":74},{"x":3,"y":-5,"v":71},{"x":4,"y":-5,"v":66},{"x":5,"y":-5,"v":60},{"x":6,"y":-5,"v":54},{"x":7,"y":-5,"v":47},{"x":8,"y":-5,"v":40},{"x":9,"y":-5,"v":34},{"x":10,"y":-5,"v":28},{"x":11,"y":-5,"v":23},{"x":12,"y":-5,"v":18},{"x":13,"y":-5,"v":14},{"x":14,"y":-5,"v":10},{"x":15,"y":-5,"v":8},{"x":16,"y":-5,"v":6},{"x":17,"y":-5,"v":4},{"x":18,"y":-5,"v":3},{"x":19,"y":-5,"v":2},{"x":20,"y":-5,"v":1},{"x":21,"y":-5,"v":1},{"x":22,"y":-5,"v":1},{"x":23,"y":-5,"v":0},{"x":24,"y":-5,"v":0},
{"x":-25,"y":-4,"v":0},{"x":-24,"y":-4,"v":0},{"x":-23,"y":-4,"v":0},{"x":-22,"y":-4,"v":1},{"x":-21,"y":-4,"v":1},{"x":-20,"y":-4,"v":1},{"x":-19,"y":-4,"v":2},{"x":-18,"y":-4,"v":3},{"x":-17,"y":-4,"v":4},{"x":-16,"y":-4,"v":6},{"x":-15,"y":-4,"v":9},{"x":-14,"y":-4,"v":11},{"x":-13,"y":-4,"v":15},{"x":-12,"y":-4,"v":20},{"x":-11,"y":-4,"v":25},{"x":-10,"y":-4,"v":31},{"x":-9,"y":-4,"v":37},{"x":-8,"y":-4,"v":44},{"x":-7,"y":-4,"v":52},{"x":-6,"y":-4,"v":59},{"x":-5,"y":-4,"v":66},{"x":-4,"y":-4,"v":72},{"x":-3,"y":-4,"v":77},{"x":-2,"y":-4,"v":82},{"x":-1,"y":-4,"v":84},{"x":0,"y":-4,"v":85},{"x":1,"y":-4,"v":84},{"x":2,"y":-4,"v":82},{"x":3,"y":-4,"v":77},{"x":4,"y":-4,"v":72},{"x":5,"y":-4,"v":66},{"x":6,"y":-4,"v":59},{"x":7,"y":-4,"v":52},{"x":8,"y":-4,"v":44},{"x":9,"y":-4,"v":37},{"x":10,"y":-4,"v":31},{"x":11,"y":-4,"v":25},{"x":12,"y":-4,"v":20},{"x":13,"y":-4,"v":15},{"x":14,"y":-4,"v":11},{"x":15,"y":-4,"v":9},{"x":16,"y":-4,"v":6},{"x":17,"y":-4,"v":4},{"x":18,"y":-4,"v":3},{"x":19,"y":-4,"v":2},{"x":20,"y":-4,"v":1},{"x":21,"y":-4,"v":1},{"x":22,"y":-4,"v":1},{"x":23,"y":-4,"v":0},{"x":24,"y":-4,"v":0},
{"x":-25,"y":-3,"v":0},{"x":-24,"y":-3,"v":0},{"x":-23,"y":-3,"v":0},{"x":-22,"y":-3,"v":1},{"x":-21,"y":-3,"v":1},{"x":-20,"y":-3,"v":2},{"x":-19,"y":-3,"v":2},{"x":-18,"y":-3,"v":3},{"x":-17,"y":-3,"v":5},{"x":-16,"y":-3,"v":7},{"x":-15,"y":-3,"v":9},{"x":-14,"y":-3,"v":12},{"x":-13,"y":-3,"v":16},{"x":-12,"y":-3,"v":21},{"x":-11,"y":-3,"v":27},{"x":-10,"y":-3,"v":33},{"x":-9,"y":-3,"v":40},{"x":-8,"y":-3,"v":47},{"x":-7,"y":-3,"v":55},{"x":-6,"y":-3,"v":63},{"x":-5,"y":-3,"v":71},{"x":-4,"y":-3,"v":77},{"x":-3,"y":-3,"v":83},{"x":-2,"y":-3,"v":88},{"x":-1,"y":-3,"v":90},{"x":0,"y":-3,"v":91},{"x":1,"y":-3,"v":90},{"x":2,"y":-3,"v":88},{"x":3,"y":-3,"v":83},{"x":4,"y":-3,"v":77},{"x":5,"y":-3,"v":71},{"x":6,"y":-3,"v":63},{"x":7,"y":-3,"v":55},{"x":8,"y":-3,"v":47},{"x":9,"y":-3,"v":40},{"x":10,"y":-3,"v":33},{"x":11,"y":-3,"v":27},{"x":12,"y":-3,"v":21},{"x":13,"y":-3,"v":16},{"x":14,"y":-3,"v":12},{"x":15,"y":-3,"v":9},{"x":16,"y":-3,"v":7},{"x":17,"y":-3,"v":5},{"x":18,"y":-3,"v":3},{"x":19,"y":-3,"v":2},{"x":20,"y":-3,"v":2},{"x":21,"y":-3,"v":1},{"x":22,"y":-3,"v":1},{"x":23,"y":-3,"v":0},{"x":24,"y":-3,"v":0},
{"x":-25,"y":-2,"v":0},{"x":-24,"y":-2,"v":0},{"x":-23,"y":-2,"v":0},{"x":-22,"y":-2,"v":1},{"x":-21,"y":-2,"v":1},{"x":-20,"y":-2,"v":2},{"x":-19,"y":-2,"v":2},{"x":-18,"y":-2,"v":4},{"x":-17,"y":-2,"v":5},{"x":-16,"y":-2,"v":7},{"x":-15,"y":-2,"v":10},{"x":-14,"y":-2,"v":13},{"x":-13,"y":-2,"v":17},{"x":-12,"y":-2,"v":22},{"x":-11,"y":-2,"v":28},{"x":-10,"y":-2,"v":35},{"x":-9,"y":-2,"v":42},{"x":-8,"y":-2,"v":50},{"x":-7,"y":-2,"v":58},{"x":-6,"y":-2,"v":66},{"x":-5,"y":-2,"v":74},{"x":-4,"y":-2,"v":82},{"x":-3,"y":-2,"v":88},{"x":-2,"y":-2,"v":92},{"x":-1,"y":-2,"v":95},{"x":0,"y":-2,"v":96},{"x":1,"y":-2,"v":95},{"x":2,"y":-2,"v":92},{"x":3,"y":-2,"v":88},{"x":4,"y":-2,"v":82},{"x":5,"y":-2,"v":74},{"x":6,"y":-2,"v":66},{"x":7,"y":-2,"v":58},{"x":8,"y":-2,"v":50},{"x":9,"y":-2,"v":42},{"x":10,"y":-2,"v":35},{"x":11,"y":-2,"v":28},{"x":12,"y":-2,"v":22},{"x":13,"y":-2,"v":17},{"x":14,"y":-2,"v":13},{"x":15,"y":-2,"v":10},{"x":16,"y":-2,"v":7},{"x":17,"y":-2,"v":5},{"x":18,"y":-2,"v":4},{"x":19,"y":-2,"v":2},{"x":20,"y":-2,"v":2},{"x":21,"y":-2,"v":1},{"x":22,"y":-2,"v":1},{"x":23,"y":-2,"v":0},{"x":24,"y":-2,"v":0},
{"x":-25,"y":-1,"v":0},{"x":-24,"y":-1,"v":0},{"x":-23,"y":-1,"v":0},{"x":-22,"y":-1,"v":1},{"x":-21,"y":-1,"v":1},{"x":-20,"y":-1,"v":2},{"x":-19,"y":-1,"v":2},{"x":-18,"y":-1,"v":4},{"x":-17,"y":-1,"v":5},{"x":-16,"y":-1,"v":7},{"x":-15,"y":-1,"v":10},{"x":-14,"y":-1,"v":13},{"x":-13,"y":-1,"v":18},{"x":-12,"y":-1,"v":23},{"x":-11,"y":-1,"v":29},{"x":-10,"y":-1,"v":36},{"x":-9,"y":-1,"v":43},{"x":-8,"y":-1,"v":52},{"x":-7,"y":-1,"v":60},{"x":-6,"y":-1,"v":69},{"x":-5,"y":-1,"v":77},{"x":-4,"y":-1,"v":84},{"x":-3,"y":-1,"v":90},{"x":-2,"y":-1,"v":95},{"x":-1,"y":-1,"v":98},{"x":0,"y":-1,"v":99},{"x":1,"y":-1,"v":98},{"x":2,"y":-1,"v":95},{"x":3,"y":-1,"v":90},{"x":4,"y":-1,"v":84},{"x":5,"y":-1,"v":77},{"x":6,"y":-1,"v":69},{"x":7,"y":-1,"v":60},{"x":8,"y":-1,"v":52},{"x":9,"y":-1,"v":43},{"x":10,"y":-1,"v":36},{"x":11,"y":-1,"v":29},{"x":12,"y":-1,"v":23},{"x":13,"y":-1,"v":18},{"x":14,"y":-1,"v":13},{"x":15,"y":-1,"v":10},{"x":16,"y":-1,"v":7},{"x":17,"y":-1,"v":5},{"x":18,"y":-1,"v":4},{"x":19,"y":-1,"v":2},{"x":20,"y":-1,"v":2},{"x":21,"y":-1,"v":1},{"x":22,"y":-1,"v":1},{"x":23,"y":-1,"v":0},{"x":24,"y":-1,"v":0},
{"x":-25,"y":0,"v":0},{"x":-24,"y":0,"v":0},{"x":-23,"y":0,"v":0},{"x":-22,"y":0,"v":1},{"x":-21,"y":0,"v":1},{"x":-20,"y":0,"v":2},{"x":-19,"y":0,"v":3},{"x":-18,"y":0,"v":4},{"x":-17,"y":0,"v":5},{"x":-16,"y":0,"v":7},{"x":-15,"y":0,"v":10},{"x":-14,"y":0,"v":14},{"x":-13,"y":0,"v":18},{"x":-12,"y":0,"v":23},{"x":-11,"y":0,"v":29},{"x":-10,"y":0,"v":36},{"x":-9,"y":0,"v":44},{"x":-8,"y":0,"v":52},{"x":-7,"y":0,"v":61},{"x":-6,"y":0,"v":69},{"x":-5,"y":0,"v":77},{"x":-4,"y":0,"v":85},{"x":-3,"y":0,"v":91},{"x":-2,"y":0,"v":96},{"x":-1,"y":0,"v":99},{"x":0,"y":0,"v":100},{"x":1,"y":0,"v":99},{"x":2,"y":0,"v":96},{"x":3,"y":0,"v":91},{"x":4,"y":0,"v":85},{"x":5,"y":0,"v":77},{"x":6,"y":0,"v":69},{"x":7,"y":0,"v":61},{"x":8,"y":0,"v":52},{"x":9,"y":0,"v":44},{"x":10,"y":0,"v":36},{"x":11,"y":0,"v":29},{"x":12,"y":0,"v":23},{"x":13,"y":0,"v":18},{"x":14,"y":0,"v":14},{"x":15,"y":0,"v":10},{"x":16,"y":0,"v":7},{"x":17,"y":0,"v":5},{"x":18,"y":0,"v":4},{"x":19,"y":0,"v":3},{"x":20,"y":0,"v":2},{"x":21,"y":0,"v":1},{"x":22,"y":0,"v":1},{"x":23,"y":0,"v":0},{"x":24,"y":0,"v":0},
{"x":-25,"y":1,"v":0},{"x":-24,"y":1,"v":0},{"x":-23,"y":1,"v":0},{"x":-22,"y":1,"v":1},{"x":-21,"y":1,"v":1},{"x":-20,"y":1,"v":2},{"x":-19,"y":1,"v":2},{"x":-18,"y":1,"v":4},{"x":-17,"y":1,"v":5},{"x":-16,"y":1,"v":7},{"x":-15,"y":1,"v":10},{"x":-14,"y":1,"v":13},{"x":-13,"y":1,"v":18},{"x":-12,"y":1,"v":23},{"x":-11,"y":1,"v":29},{"x":-10,"y":1,"v":36},{"x":-9,"y":1,"v":43},{"x":-8,"y":1,"v":52},{"x":-7,"y":1,"v":60},{"x":-6,"y":1,"v":69},{"x":-5,"y":1,"v":77},{"x":-4,"y":1,"v":84},{"x":-3,"y":1,"v":90},{"x":-2,"y":1,"v":95},{"x":-1,"y":1,"v":98},{"x":0,"y":1,"v":99},{"x":1,"y":1,"v":98},{"x":2,"y":1,"v":95},{"x":3,"y":1,"v":90},{"x":4,"y":1,"v":84},{"x":5,"y":1,"v":77},{"x":6,"y":1,"v":69},{"x":7,"y":1,"v":60},{"x":8,"y":1,"v":52},{"x":9,"y":1,"v":43},{"x":10,"y":1,"v":36},{"x":11,"y":1,"v":29},{"x":12,"y":1,"v":23},{"x":13,"y":1,"v":18},{"x":14,"y":1,"v":13},{"x":15,"y":1,"v":10},{"x":16,"y":1,"v":7},{"x":17,"y":1,"v":5},{"x":18,"y":1,"v":4},{"x":19,"y":1,"v":2},{"x":20,"y":1,"v":2},{"x":21,"y":1,"v":1},{"x":22,"y":1,"v":1},{"x":23,"y":1,"v":0},{"x":24,"y":1,"v":0},
{"x":-25,"y":2,"v":0},{"x":-24,"y":2,"v":0},{"x":-23,"y":2,"v":0},{"x":-22,"y":2,"v":1},{"x":-21,"y":2,"v":1},{"x":-20,"y":2,"v":2},{"x":-19,"y":2,"v":2},{"x":-18,"y":2,"v":4},{"x":-17,"y":2,"v":5},{"x":-16,"y":2,"v":7},{"x":-15,"y":2,"v":10},{"x":-14,"y":2,"v":13},{"x":-13,"y":2,"v":17},{"x":-12,"y":2,"v":22},{"x":-11,"y":2,"v":28},{"x":-10,"y":2,"v":35},{"x":-9,"y":2,"v":42},{"x":-8,"y":2,"v":50},{"x":-7,"y":2,"v":58},{"x":-6,"y":2,"v":66},{"x":-5,"y":2,"v":74},{"x":-4,"y":2,"v":82},{"x":-3,"y":2,"v":88},{"x":-2,"y":2,"v":92},{"x":-1,"y":2,"v":95},{"x":0,"y":2,"v":96},{"x":1,"y":2,"v":95},{"x":2,"y":2,"v":92},{"x":3,"y":2,"v":88},{"x":4,"y":2,"v":82},{"x":5,"y":2,"v":74},{"x":6,"y":2,"v":66},{"x":7,"y":2,"v":58},{"x":8,"y":2,"v":50},{"x":9,"y":2,"v":42},{"x":10,"y":2,"v":35},{"x":11,"y":2,"v":28},{"x":12,"y":2,"v":22},{"x":13,"y":2,"v":17},{"x":14,"y":2,"v":13},{"x":15,"y":2,"v":10},{"x":16,"y":2,"v":7},{"x":17,"y":2,"v":5},{"x":18,"y":2,"v":4},{"x":19,"y":2,"v":2},{"x":20,"y":2,"v":2},{"x":21,"y":2,"v":1},{"x":22,"y":2,"v":1},{"x":23,"y":2,"v":0},{"x":24,"y":2,"v":0},
{"x":-25,"y":3,"v":0},{"x":-24,"y":3,"v":0},{"x":-23,"y":3,"v":0},{"x":-22,"y":3,"v":1},{"x":-21,"y":3,"v":1},{"x":-20,"y":3,"v":2},{"x":-19,"y":3,"v":2},{"x":-18,"y":3,"v":3},{"x":-17,"y":3,"v":5},{"x":-16,"y":3,"v":7},{"x":-15,"y":3,"v":9},{"x":-14,"y":3,"v":12},{"x":-13,"y":3,"v":16},{"x":-12,"y":3,"v":21},{"x":-11,"y":3,"v":27},{"x":-10,"y":3,"v":33},{"x":-9,"y":3,"v":40},{"x":-8,"y":3,"v":47},{"x":-7,"y":3,"v":55},{"x":-6,"y":3,"v":63},{"x":-5,"y":3,"v":71},{"x":-4,"y":3,"v":77},{"x":-3,"y":3,"v":83},{"x":-2,"y":3,"v":88},{"x":-1,"y":3,"v":90},{"x":0,"y":3,"v":91},{"x":1,"y":3,"v":90},{"x":2,"y":3,"v":88},{"x":3,"y":3,"v":83},{"x":4,"y":3,"v":77},{"x":5,"y":3,"v":71},{"x":6,"y":3,"v":63},{"x":7,"y":3,"v":55},{"x":8,"y":3,"v":47},{"x":9,"y":3,"v":40},{"x":10,"y":3,"v":33},{"x":11,"y":3,"v":27},{"x":12,"y":3,"v":21},{"x":13,"y":3,"v":16},{"x":14,"y":3,"v":12},{"x":15,"y":3,"v":9},{"x":16,"y":3,"v":7},{"x":17,"y":3,"v":5},{"x":18,"y":3,"v":3},{"x":19,"y":3,"v":2},{"x":20,"y":3,"v":2},{"x":21,"y":3,"v":1},{"x":22,"y":3,"v":1},{"x":23,"y":3,"v":0},{"x":24,"y":3,"v":0},
{"x":-25,"y":4,"v":0},{"x":-24,"y":4,"v":0},{"x":-23,"y":4,"v":0},{"x":-22,"y":4,"v":1},{"x":-21,"y":4,"v":1},{"x":-20,"y":4,"v":1},{"x":-19,"y":4,"v":2},{"x":-18,"y":4,"v":3},{"x":-17,"y":4,"v":4},{"x":-16,"y":4,"v":6},{"x":-15,"y":4,"v":9},{"x":-14,"y":4,"v":11},{"x":-13,"y":4,"v":15},{"x":-12,"y":4,"v":20},{"x":-11,"y":4,"v":25},{"x":-10,"y":4,"v":31},{"x":-9,"y":4,"v":37},{"x":-8,"y":4,"v":44},{"x":-7,"y":4,"v":52},{"x":-6,"y":4,"v":59},{"x":-5,"y":4,"v":66},{"x":-4,"y":4,"v":72},{"x":-3,"y":4,"v":77},{"x":-2,"y":4,"v":82},{"x":-1,"y":4,"v":84},{"x":0,"y":4,"v":85},{"x":1,"y":4,"v":84},{"x":2,"y":4,"v":82},{"x":3,"y":4,"v":77},{"x":4,"y":4,"v":72},{"x":5,"y":4,"v":66},{"x":6,"y":4,"v":59},{"x":7,"y":4,"v":52},{"x":8,"y":4,"v":44},{"x":9,"y":4,"v":37},{"x":10,"y":4,"v":31},{"x":11,"y":4,"v":25},{"x":12,"y":4,"v":20},{"x":13,"y":4,"v":15},{"x":14,"y":4,"v":11},{"x":15,"y":4,"v":9},{"x":16,"y":4,"v":6},{"x":17,"y":4,"v":4},{"x":18,"y":4,"v":3},{"x":19,"y":4,"v":2},{"x":20,"y":4,"v":1},{"x":21,"y":4,"v":1},{"x":22,"y":4,"v":1},{"x":23,"y":4,"v":0},{"x":24,"y":4,"v":0},
{"x":-25,"y":5,"v":0},{"x":-24,"y":5,"v":0},{"x":-23,"y":5,"v":0},{"x":-22,"y":5,"v":1},{"x":-21,"y":5,"v":1},{"x":-20,"y":5,"v":1},{"x":-19,"y":5,"v":2},{"x":-18,"y":5,"v":3},{"x":-17,"y":5,"v":4},{"x":-16,"y":5,"v":6},{"x":-15,"y":5,"v":8},{"x":-14,"y":5,"v":10},{"x":-13,"y":5,"v":14},{"x":-12,"y":5,"v":18},{"x":-11,"y":5,"v":23},{"x":-10,"y":5,"v":28},{"x":-9,"y":5,"v":34},{"x":-8,"y":5,"v":40},{"x":-7,"y":5,"v":47},{"x":-6,"y":5,"v":54},{"x":-5,"y":5,"v":60},{"x":-4,"y":5,"v":66},{"x":-3,"y":5,"v":71},{"x":-2,"y":5,"v":74},{"x":-1,"y":5,"v":77},{"x":0,"y":5,"v":77},{"x":1,"y":5,"v":77},{"x":2,"y":5,"v":74},{"x":3,"y":5,"v":71},{"x":4,"y":5,"v":66},{"x":5,"y":5,"v":60},{"x":6,"y":5,"v":54},{"x":7,"y":5,"v":47},{"x":8,"y":5,"v":40},{"x":9,"y":5,"v":34},{"x":10,"y":5,"v":28},{"x":11,"y":5,"v":23},{"x":12,"y":5,"v":18},{"x":13,"y":5,"v":14},{"x":14,"y":5,"v":10},{"x":15,"y":5,"v":8},{"x":16,"y":5,"v":6},{"x":17,"y":5,"v":4},{"x":18,"y":5,"v":3},{"x":19,"y":5,"v":2},{"x":20,"y":5,"v":1},{"x":21,"y":5,"v":1},{"x":22,"y":5,"v":1},{"x":23,"y":5,"v":0},{"x":24,"y":5,"v":0},
{"x":-25,"y":6,"v":0},{"x":-24,"y":6,"v":0},{"x":-23,"y":6,"v":0},{"x":-22,"y":6,"v":0},{"x":-21,"y":6,"v":1},{"x":-20,"y":6,"v":1},{"x":-19,"y":6,"v":2},{"x":-18,"y":6,"v":3},{"x":-17,"y":6,"v":4},{"x":-16,"y":6,"v":5},{"x":-15,"y":6,"v":7},{"x":-14,"y":6,"v":9},{"x":-13,"y":6,"v":12},{"x":-12,"y":6,"v":16},{"x":-11,"y":6,"v":20},{"x":-10,"y":6,"v":25},{"x":-9,"y":6,"v":30},{"x":-8,"y":6,"v":36},{"x":-7,"y":6,"v":42},{"x":-6,"y":6,"v":48},{"x":-5,"y":6,"v":54},{"x":-4,"y":6,"v":59},{"x":-3,"y":6,"v":63},{"x":-2,"y":6,"v":66},{"x":-1,"y":6,"v":69},{"x":0,"y":6,"v":69},{"x":1,"y":6,"v":69},{"x":2,"y":6,"v":66},{"x":3,"y":6,"v":63},{"x":4,"y":6,"v":59},{"x":5,"y":6,"v":54},{"x":6,"y":6,"v":48},{"x":7,"y":6,"v":42},{"x":8,"y":6,"v":36},{"x":9,"y":6,"v":30},{"x":10,"y":6,"v":25},{"x":11,"y":6,"v":20},{"x":12,"y":6,"v":16},{"x":13,"y":6,"v":12},{"x":14,"y":6,"v":9},{"x":15,"y":6,"v":7},{"x":16,"y":6,"v":5},{"x":17,"y":6,"v":4},{"x":18,"y":6,"v":3},{"x":19,"y":6,"v":2},{"x":20,"y":6,"v":1},{"x":21,"y":6,"v":1},{"x":22,"y":6,"v":0},{"x":23,"y":6,"v":0},{"x":24,"y":6,"v":0},
{"x":-25,"y":7,"v":0},{"x":-24,"y":7,"v":0},{"x":-23,"y":7,"v":0},{"x":-22,"y":7,"v":0},{"x":-21,"y":7,"v":1},{"x":-20,"y":7,"v":1},{"x":-19,"y":7,"v":2},{"x":-18,"y":7,"v":2},{"x":-17,"y":7,"v":3},{"x":-16,"y":7,"v":4},{"x":-15,"y":7,"v":6},{"x":-14,"y":7,"v":8},{"x":-13,"y":7,"v":11},{"x":-12,"y":7,"v":14},{"x":-11,"y":7,"v":18},{"x":-10,"y":7,"v":22},{"x":-9,"y":7,"v":27},{"x":-8,"y":7,"v":32},{"x":-7,"y":7,"v":37},{"x":-6,"y":7,"v":42},{"x":-5,"y":7,"v":47},{"x":-4,"y":7,"v":52},{"x":-3,"y":7,"v":55},{"x":-2,"y":7,"v":58},{"x":-1,"y":7,"v":60},{"x":0,"y":7,"v":61},{"x":1,"y":7,"v":60},{"x":2,"y":7,"v":58},{"x":3,"y":7,"v":55},{"x":4,"y":7,"v":52},{"x":5,"y":7,"v":47},{"x":6,"y":7,"v":42},{"x":7,"y":7,"v":37},{"x":8,"y":7,"v":32},{"x":9,"y":7,"v":27},{"x":10,"y":7,"v":22},{"x":11,"y":7,"v":18},{"x":12,"y":7,"v":14},{"x":13,"y":7,"v":11},{"x":14,"y":7,"v":8},{"x":15,"y":7,"v":6},{"x":16,"y":7,"v":4},{"x":17,"y":7,"v":3},{"x":18,"y":7,"v":2},{"x":19,"y":7,"v":2},{"x":20,"y":7,"v":1},{"x":21,"y":7,"v":1},{"x":22,"y":7,"v":0},{"x":23,"y":7,"v":0},{"x":24,"y":7,"v":0},
{"x":-25,"y":8,"v":0},{"x":-24,"y":8,"v":0},{"x":-23,"y":8,"v":0},{"x":-22,"y":8,"v":0},{"x":-21,"y":8,"v":1},{"x":-20,"y":8,"v":1},{"x":-19,"y":8,"v":1},{"x":-18,"y":8,"v":2},{"x":-17,"y":8,"v":3},{"x":-16,"y":8,"v":4},{"x":-15,"y":8,"v":5},{"x":-14,"y":8,"v":7},{"x":-13,"y":8,"v":9},{"x":-12,"y":8,"v":12},{"x":-11,"y":8,"v":15},{"x":-10,"y":8,"v":19},{"x":-9,"y":8,"v":23},{"x":-8,"y":8,"v":27},{"x":-7,"y":8,"v":32},{"x":-6,"y":8,"v":36},{"x":-5,"y":8,"v":40},{"x":-4,"y":8,"v":44},{"x":-3,"y":8,"v":47},{"x":-2,"y":8,"v":50},{"x":-1,"y":8,"v":52},{"x":0,"y":8,"v":52},{"x":1,"y":8,"v":52},{"x":2,"y":8,"v":50},{"x":3,"y":8,"v":47},{"x":4,"y":8,"v":44},{"x":5,"y":8,"v":40},{"x":6,"y":8,"v":36},{"x":7,"y":8,"v":32},{"x":8,"y":8,"v":27},{"x":9,"y":8,"v":23},{"x":10,"y":8,"v":19},{"x":11,"y":8,"v":15},{"x":12,"y":8,"v":12},{"x":13,"y":8,"v":9},{"x":14,"y":8,"v":7},{"x":15,"y":8,"v":5},{"x":16,"y":8,"v":4},{"x":17,"y":8,"v":3},{"x":18,"y":8,"v":2},{"x":19,"y":8,"v":1},{"x":20,"y":8,"v":1},{"x":21,"y":8,"v":1},{"x":22,"y":8,"v":0},{"x":23,"y":8,"v":0},{"x":24,"y":8,"v":0},
{"x":-25,"y":9,"v":0},{"x":-24,"y":9,"v":0},{"x":-23,"y":9,"v":0},{"x":-22,"y":9,"v":0},{"x":-21,"y":9,"v":0},{"x":-20,"y":9,"v":1},{"x":-19,"y":9,"v":1},{"x":-18,"y":9,"v":2},{"x":-17,"y":9,"v":2},{"x":-16,"y":9,"v":3},{"x":-15,"y":9,"v":4},{"x":-14,"y":9,"v":6},{"x":-13,"y":9,"v":8},{"x":-12,"y":9,"v":10},{"x":-11,"y":9,"v":13},{"x":-10,"y":9,"v":16},{"x":-9,"y":9,"v":19},{"x":-8,"y":9,"v":23},{"x":-7,"y":9,"v":27},{"x":-6,"y":9,"v":30},{"x":-5,"y":9,"v":34},{"x":-4,"y":9,"v":37},{"x":-3,"y":9,"v":40},{"x":-2,"y":9,"v":42},{"x":-1,"y":9,"v":43},{"x":0,"y":9,"v":44},{"x":1,"y":9,"v":43},{"x":2,"y":9,"v":42},{"x":3,"y":9,"v":40},{"x":4,"y":9,"v":37},{"x":5,"y":9,"v":34},{"x":6,"y":9,"v":30},{"x":7,"y":9,"v":27},{"x":8,"y":9,"v":23},{"x":9,"y":9,"v":19},{"x":10,"y":9,"v":16},{"x":11,"y":9,"v":13},{"x":12,"y":9,"v":10},{"x":13,"y":9,"v":8},{"x":14,"y":9,"v":6},{"x":15,"y":9,"v":4},{"x":16,"y":9,"v":3},{"x":17,"y":9,"v":2},{"x":18,"y":9,"v":2},{"x":19,"y":9,"v":1},{"x":20,"y":9,"v":1},{"x":21,"y":9,"v":0},{"x":22,"y":9,"v":0},{"x":23,"y":9,"v":0},{"x":24,"y":9,"v":0},
{"x":-25,"y":10,"v":0},{"x":-24,"y":10,"v":0},{"x":-23,"y":10,"v":0},{"x":-22,"y":10,"v":0},{"x":-21,"y":10,"v":0},{"x":-20,"y":10,"v":1},{"x":-19,"y":10,"v":1},{"x":-18,"y":10,"v":1},{"x":-17,"y":10,"v":2},{"x":-16,"y":10,"v":3},{"x":-15,"y":10,"v":4},{"x":-14,"y":10,"v":5},{"x":-13,"y":10,"v":6},{"x":-12,"y":10,"v":8},{"x":-11,"y":10,"v":10},{"x":-10,"y":10,"v":13},{"x":-9,"y":10,"v":16},{"x":-8,"y":10,"v":19},{"x":-7,"y":10,"v":22},{"x":-6,"y":10,"v":25},{"x":-5,"y":10,"v":28},{"x":-4,"y":10,"v":31},{"x":-3,"y":10,"v":33},{"x":-2,"y":10,"v":35},{"x":-1,"y":10,"v":36},{"x":0,"y":10,"v":36},{"x":1,"y":10,"v":36},{"x":2,"y":10,"v":35},{"x":3,"y":10,"v":33},{"x":4,"y":10,"v":31},{"x":5,"y":10,"v":28},{"x":6,"y":10,"v":25},{"x":7,"y":10,"v":22},{"x":8,"y":10,"v":19},{"x":9,"y":10,"v":16},{"x":10,"y":10,"v":13},{"x":11,"y":10,"v":10},{"x":12,"y":10,"v":8},{"x":13,"y":10,"v":6},{"x":14,"y":10,"v":5},{"x":15,"y":10,"v":4},{"x":16,"y":10,"v":3},{"x":17,"y":10,"v":2},{"x":18,"y":10,"v":1},{"x":19,"y":10,"v":1},{"x":20,"y":10,"v":1},{"x":21,"y":10,"v":0},{"x":22,"y":10,"v":0},{"x":23,"y":10,"v":0},{"x":24,"y":10,"v":0},
{"x":-25,"y":11,"v":0},{"x":-24,"y":11,"v":0},{"x":-23,"y":11,"v":0},{"x":-22,"y":11,"v":0},{"x":-21,"y":11,"v":0},{"x":-20,"y":11,"v":0},{"x":-19,"y":11,"v":1},{"x":-18,"y":11,"v":1},{"x":-17,"y":11,"v":2},{"x":-16,"y":11,"v":2},{"x":-15,"y":11,"v":3},{"x":-14,"y":11,"v":4},{"x":-13,"y":11,"v":5},{"x":-12,"y":11,"v":7},{"x":-11,"y":11,"v":8},{"x":-10,"y":11,"v":10},{"x":-9,"y":11,"v":13},{"x":-8,"y":11,"v":15},{"x":-7,"y":11,"v":18},{"x":-6,"y":11,"v":20},{"x":-5,"y":11,"v":23},{"x":-4,"y":11,"v":25},{"x":-3,"y":11,"v":27},{"x":-2,"y":11,"v":28},{"x":-1,"y":11,"v":29},{"x":0,"y":11,"v":29},{"x":1,"y":11,"v":29},{"x":2,"y":11,"v":28},{"x":3,"y":11,"v":27},{"x":4,"y":11,"v":25},{"x":5,"y":11,"v":23},{"x":6,"y":11,"v":20},{"x":7,"y":11,"v":18},{"x":8,"y":11,"v":15},{"x":9,"y":11,"v":13},{"x":10,"y":11,"v":10},{"x":11,"y":11,"v":8},{"x":12,"y":11,"v":7},{"x":13,"y":11,"v":5},{"x":14,"y":11,"v":4},{"x":15,"y":11,"v":3},{"x":16,"y":11,"v":2},{"x":17,"y":11,"v":2},{"x":18,"y":11,"v":1},{"x":19,"y":11,"v":1},{"x":20,"y":11,"v":0},{"x":21,"y":11,"v":0},{"x":22,"y":11,"v":0},{"x":23,"y":11,"v":0},{"x":24,"y":11,"v":0},
{"x":-25,"y":12,"v":0},{"x":-24,"y":12,"v":0},{"x":-23,"y":12,"v":0},{"x":-22,"y":12,"v":0},{"x":-21,"y":12,"v":0},{"x":-20,"y":12,"v":0},{"x":-19,"y":12,"v":1},{"x":-18,"y":12,"v":1},{"x":-17,"y":12,"v":1},{"x":-16,"y":12,"v":2},{"x":-15,"y":12,"v":2},{"x":-14,"y":12,"v":3},{"x":-13,"y":12,"v":4},{"x":-12,"y":12,"v":5},{"x":-11,"y":12,"v":7},{"x":-10,"y":12,"v":8},{"x":-9,"y":12,"v":10},{"x":-8,"y":12,"v":12},{"x":-7,"y":12,"v":14},{"x":-6,"y":12,"v":16},{"x":-5,"y":12,"v":18},{"x":-4,"y":12,"v":20},{"x":-3,"y":12,"v":21},{"x":-2,"y":12,"v":22},{"x":-1,"y":12,"v":23},{"x":0,"y":12,"v":23},{"x":1,"y":12,"v":23},{"x":2,"y":12,"v":22},{"x":3,"y":12,"v":21},{"x":4,"y":12,"v":20},{"x":5,"y":12,"v":18},{"x":6,"y":12,"v":16},{"x":7,"y":12,"v":14},{"x":8,"y":12,"v":12},{"x":9,"y":12,"v":10},{"x":10,"y":12,"v":8},{"x":11,"y":12,"v":7},{"x":12,"y":12,"v":5},{"x":13,"y":12,"v":4},{"x":14,"y":12,"v":3},{"x":15,"y":12,"v":2},{"x":16,"y":12,"v":2},{"x":17,"y":12,"v":1},{"x":18,"y":12,"v":1},{"x":19,"y":12,"v":1},{"x":20,"y":12,"v":0},{"x":21,"y":12,"v":0},{"x":22,"y":12,"v":0},{"x":23,"y":12,"v":0},{"x":24,"y":12,"v":0},
{"x":-25,"y":13,"v":0},{"x":-24,"y":13,"v":0},{"x":-23,"y":13,"v":0},{"x":-22,"y":13,"v":0},{"x":-21,"y":13,"v":0},{"x":-20,"y":13,"v":0},{"x":-19,"y":13,"v":0},{"x":-18,"y":13,"v":1},{"x":-17,"y":13,"v":1},{"x":-16,"y":13,"v":1},{"x":-15,"y":13,"v":2},{"x":-14,"y":13,"v":2},{"x":-13,"y":13,"v":3},{"x":-12,"y":13,"v":4},{"x":-11,"y":13,"v":5},{"x":-10,"y":13,"v":6},{"x":-9,"y":13,"v":8},{"x":-8,"y":13,"v":9},{"x":-7,"y":13,"v":11},{"x":-6,"y":13,"v":12},{"x":-5,"y":13,"v":14},{"x":-4,"y":13,"v":15},{"x":-3,"y":13,"v":16},{"x":-2,"y":13,"v":17},{"x":-1,"y":13,"v":18},{"x":0,"y":13,"v":18},{"x":1,"y":13,"v":18},{"x":2,"y":13,"v":17},{"x":3,"y":13,"v":16},{"x":4,"y":13,"v":15},{"x":5,"y":13,"v":14},{"x":6,"y":13,"v":12},{"x":7,"y":13,"v":11},{"x":8,"y":13,"v":9},{"x":9,"y":13,"v":8},{"x":10,"y":13,"v":6},{"x":11,"y":13,"v":5},{"x":12,"y":13,"v":4},{"x":13,"y":13,"v":3},{"x":14,"y":13,"v":2},{"x":15,"y":13,"v":2},{"x":16,"y":13,"v":1},{"x":17,"y":13,"v":1},{"x":18,"y":13,"v":1},{"x":19,"y":13,"v":0},{"x":20,"y":13,"v":0},{"x":21,"y":13,"v":0},{"x":22,"y":13,"v":0},{"x":23,"y":13,"v":0},{"x":24,"y":13,"v":0},
{"x":-25,"y":14,"v":0},{"x":-24,"y":14,"v":0},{"x":-23,"y":14,"v":0},{"x":-22,"y":14,"v":0},{"x":-21,"y":14,"v":0},{"x":-20,"y":14,"v":0},{"x":-19,"y":14,"v":0},{"x":-18,"y":14,"v":0},{"x":-17,"y":14,"v":1},{"x":-16,"y":14,"v":1},{"x":-15,"y":14,"v":1},{"x":-14,"y":14,"v":2},{"x":-13,"y":14,"v":2},{"x":-12,"y":14,"v":3},{"x":-11,"y":14,"v":4},{"x":-10,"y":14,"v":5},{"x":-9,"y":14,"v":6},{"x":-8,"y":14,"v":7},{"x":-7,"y":14,"v":8},{"x":-6,"y":14,"v":9},{"x":-5,"y":14,"v":10},{"x":-4,"y":14,"v":11},{"x":-3,"y":14,"v":12},{"x":-2,"y":14,"v":13},{"x":-1,"y":14,"v":13},{"x":0,"y":14,"v":14},{"x":1,"y":14,"v":13},{"x":2,"y":14,"v":13},{"x":3,"y":14,"v":12},{"x":4,"y":14,"v":11},{"x":5,"y":14,"v":10},{"x":6,"y":14,"v":9},{"x":7,"y":14,"v":8},{"x":8,"y":14,"v":7},{"x":9,"y":14,"v":6},{"x":10,"y":14,"v":5},{"x":11,"y":14,"v":4},{"x":12,"y":14,"v":3},{"x":13,"y":14,"v":2},{"x":14,"y":14,"v":2},{"x":15,"y":14,"v":1},{"x":16,"y":14,"v":1},{"x":17,"y":14,"v":1},{"x":18,"y":14,"v":0},{"x":19,"y":14,"v":0},{"x":20,"y":14,"v":0},{"x":21,"y":14,"v":0},{"x":22,"y":14,"v":0},{"x":23,"y":14,"v":0},{"x":24,"y":14,"v":0},
{"x":-25,"y":15,"v":0},{"x":-24,"y":15,"v":0},{"x":-23,"y":15,"v":0},{"x":-22,"y":15,"v":0},{"x":-21,"y":15,"v":0},{"x":-20,"y":15,"v":0},{"x":-19,"y":15,"v":0},{"x":-18,"y":15,"v":0},{"x":-17,"y":15,"v":1},{"x":-16,"y":15,"v":1},{"x":-15,"y":15,"v":1},{"x":-14,"y":15,"v":1},{"x":-13,"y":15,"v":2},{"x":-12,"y":15,"v":2},{"x":-11,"y":15,"v":3},{"x":-10,"y":15,"v":4},{"x":-9,"y":15,"v":4},{"x":-8,"y":15,"v":5},{"x":-7,"y":15,"v":6},{"x":-6,"y":15,"v":7},{"x":-5,"y":15,"v":8},{"x":-4,"y":15,"v":9},{"x":-3,"y":15,"v":9},{"x":-2,"y":15,"v":10},{"x":-1,"y":15,"v":10},{"x":0,"y":15,"v":10},{"x":1,"y":15,"v":10},{"x":2,"y":15,"v":10},{"x":3,"y":15,"v":9},{"x":4,"y":15,"v":9},{"x":5,"y":15,"v":8},{"x":6,"y":15,"v":7},{"x":7,"y":15,"v":6},{"x":8,"y":15,"v":5},{"x":9,"y":15,"v":4},{"x":10,"y":15,"v":4},{"x":11,"y":15,"v":3},{"x":12,"y":15,"v":2},{"x":13,"y":15,"v":2},{"x":14,"y":15,"v":1},{"x":15,"y":15,"v":1},{"x":16,"y":15,"v":1},{"x":17,"y":15,"v":1},{"x":18,"y":15,"v":0},{"x":19,"y":15,"v":0},{"x":20,"y":15,"v":0},{"x":21,"y":15,"v":0},{"x":22,"y":15,"v":0},{"x":23,"y":15,"v":0},{"x":24,"y":15,"v":0},
{"x":-25,"y":16,"v":0},{"x":-24,"y":16,"v":0},{"x":-23,"y":16,"v":0},{"x":-22,"y":16,"v":0},{"x":-21,"y":16,"v":0},{"x":-20,"y":16,"v":0},{"x":-19,"y":16,"v":0},{"x":-18,"y":16,"v":0},{"x":-17,"y":16,"v":0},{"x":-16,"y":16,"v":1},{"x":-15,"y":16,"v":1},{"x":-14,"y":16,"v":1},{"x":-13,"y":16,"v":1},{"x":-12,"y":16,"v":2},{"x":-11,"y":16,"v":2},{"x":-10,"y":16,"v":3},{"x":-9,"y":16,"v":3},{"x":-8,"y":16,"v":4},{"x":-7,"y":16,"v":4},{"x":-6,"y":16,"v":5},{"x":-5,"y":16,"v":6},{"x":-4,"y":16,"v":6},{"x":-3,"y":16,"v":7},{"x":-2,"y":16,"v":7},{"x":-1,"y":16,"v":7},{"x":0,"y":16,"v":7},{"x":1,"y":16,"v":7},{"x":2,"y":16,"v":7},{"x":3,"y":16,"v":7},{"x":4,"y":16,"v":6},{"x":5,"y":16,"v":6},{"x":6,"y":16,"v":5},{"x":7,"y":16,"v":4},{"x":8,"y":16,"v":4},{"x":9,"y":16,"v":3},{"x":10,"y":16,"v":3},{"x":11,"y":16,"v":2},{"x":12,"y":16,"v":2},{"x":13,"y":16,"v":1},{"x":14,"y":16,"v":1},{"x":15,"y":16,"v":1},{"x":16,"y":16,"v":1},{"x":17,"y":16,"v":0},{"x":18,"y":16,"v":0},{"x":19,"y":16,"v":0},{"x":20,"y":16,"v":0},{"x":21,"y":16,"v":0},{"x":22,"y":16,"v":0},{"x":23,"y":16,"v":0},{"x":24,"y":16,"v":0},
{"x":-25,"y":17,"v":0},{"x":-24,"y":17,"v":0},{"x":-23,"y":17,"v":0},{"x":-22,"y":17,"v":0},{"x":-21,"y":17,"v":0},{"x":-20,"y":17,"v":0},{"x":-19,"y":17,"v":0},{"x":-18,"y":17,"v":0},{"x":-17,"y":17,"v":0},{"x":-16,"y":17,"v":0},{"x":-15,"y":17,"v":1},{"x":-14,"y":17,"v":1},{"x":-13,"y":17,"v":1},{"x":-12,"y":17,"v":1},{"x":-11,"y":17,"v":2},{"x":-10,"y":17,"v":2},{"x":-9,"y":17,"v":2},{"x":-8,"y":17,"v":3},{"x":-7,"y":17,"v":3},{"x":-6,"y":17,"v":4},{"x":-5,"y":17,"v":4},{"x":-4,"y":17,"v":4},{"x":-3,"y":17,"v":5},{"x":-2,"y":17,"v":5},{"x":-1,"y":17,"v":5},{"x":0,"y":17,"v":5},{"x":1,"y":17,"v":5},{"x":2,"y":17,"v":5},{"x":3,"y":17,"v":5},{"x":4,"y":17,"v":4},{"x":5,"y":17,"v":4},{"x":6,"y":17,"v":4},{"x":7,"y":17,"v":3},{"x":8,"y":17,"v":3},{"x":9,"y":17,"v":2},{"x":10,"y":17,"v":2},{"x":11,"y":17,"v":2},{"x":12,"y":17,"v":1},{"x":13,"y":17,"v":1},{"x":14,"y":17,"v":1},{"x":15,"y":17,"v":1},{"x":16,"y":17,"v":0},{"x":17,"y":17,"v":0},{"x":18,"y":17,"v":0},{"x":19,"y":17,"v":0},{"x":20,"y":17,"v":0},{"x":21,"y":17,"v":0},{"x":22,"y":17,"v":0},{"x":23,"y":17,"v":0},{"x":24,"y":17,"v":0},
{"x":-25,"y":18,"v":0},{"x":-24,"y":18,"v":0},{"x":-23,"y":18,"v":0},{"x":-22,"y":18,"v":0},{"x":-21,"y":18,"v":0},{"x":-20,"y":18,"v":0},{"x":-19,"y":18,"v":0},{"x":-18,"y":18,"v":0},{"x":-17,"y":18,"v":0},{"x":-16,"y":18,"v":0},{"x":-15,"y":18,"v":0},{"x":-14,"y":18,"v":0},{"x":-13,"y":18,"v":1},{"x":-12,"y":18,"v":1},{"x":-11,"y":18,"v":1},{"x":-10,"y":18,"v":1},{"x":-9,"y":18,"v":2},{"x":-8,"y":18,"v":2},{"x":-7,"y":18,"v":2},{"x":-6,"y":18,"v":3},{"x":-5,"y":18,"v":3},{"x":-4,"y":18,"v":3},{"x":-3,"y":18,"v":3},{"x":-2,"y":18,"v":4},{"x":-1,"y":18,"v":4},{"x":0,"y":18,"v":4},{"x":1,"y":18,"v":4},{"x":2,"y":18,"v":4},{"x":3,"y":18,"v":3},{"x":4,"y":18,"v":3},{"x":5,"y":18,"v":3},{"x":6,"y":18,"v":3},{"x":7,"y":18,"v":2},{"x":8,"y":18,"v":2},{"x":9,"y":18,"v":2},{"x":10,"y":18,"v":1},{"x":11,"y":18,"v":1},{"x":12,"y":18,"v":1},{"x":13,"y":18,"v":1},{"x":14,"y":18,"v":0},{"x":15,"y":18,"v":0},{"x":16,"y":18,"v":0},{"x":17,"y":18,"v":0},{"x":18,"y":18,"v":0},{"x":19,"y":18,"v":0},{"x":20,"y":18,"v":0},{"x":21,"y":18,"v":0},{"x":22,"y":18,"v":0},{"x":23,"y":18,"v":0},{"x":24,"y":18,"v":0},
{"x":-25,"y":19,"v":0},{"x":-24,"y":19,"v":0},{"x":-23,"y":19,"v":0},{"x":-22,"y":19,"v":0},{"x":-21,"y":19,"v":0},{"x":-20,"y":19,"v":0},{"x":-19,"y":19,"v":0},{"x":-18,"y":19,"v":0},{"x":-17,"y":19,"v":0},{"x":-16,"y":19,"v":0},{"x":-15,"y":19,"v":0},{"x":-14,"y":19,"v":0},{"x":-13,"y":19,"v":0},{"x":-12,"y":19,"v":1},{"x":-11,"y":19,"v":1},{"x":-10,"y":19,"v":1},{"x":-9,"y":19,"v":1},{"x":-8,"y":19,"v":1},{"x":-7,"y":19,"v":2},{"x":-6,"y":19,"v":2},{"x":-5,"y":19,"v":2},{"x":-4,"y":19,"v":2},{"x":-3,"y":19,"v":2},{"x":-2,"y":19,"v":2},{"x":-1,"y":19,"v":2},{"x":0,"y":19,"v":3},{"x":1,"y":19,"v":2},{"x":2,"y":19,"v":2},{"x":3,"y":19,"v":2},{"x":4,"y":19,"v":2},{"x":5,"y":19,"v":2},{"x":6,"y":19,"v":2},{"x":7,"y":19,"v":2},{"x":8,"y":19,"v":1},{"x":9,"y":19,"v":1},{"x":10,"y":19,"v":1},{"x":11,"y":19,"v":1},{"x":12,"y":19,"v":1},{"x":13,"y":19,"v":0},{"x":14,"y":19,"v":0},{"x":15,"y":19,"v":0},{"x":16,"y":19,"v":0},{"x":17,"y":19,"v":0},{"x":18,"y":19,"v":0},{"x":19,"y":19,"v":0},{"x":20,"y":19,"v":0},{"x":21,"y":19,"v":0},{"x":22,"y":19,"v":0},{"x":23,"y":19,"v":0},{"x":24,"y":19,"v":0},
{"x":-25,"y":20,"v":0},{"x":-24,"y":20,"v":0},{"x":-23,"y":20,"v":0},{"x":-22,"y":20,"v":0},{"x":-21,"y":20,"v":0},{"x":-20,"y":20,"v":0},{"x":-19,"y":20,"v":0},{"x":-18,"y":20,"v":0},{"x":-17,"y":20,"v":0},{"x":-16,"y":20,"v":0},{"x":-15,"y":20,"v":0},{"x":-14,"y":20,"v":0},{"x":-13,"y":20,"v":0},{"x":-12,"y":20,"v":0},{"x":-11,"y":20,"v":0},{"x":-10,"y":20,"v":1},{"x":-9,"y":20,"v":1},{"x":-8,"y":20,"v":1},{"x":-7,"y":20,"v":1},{"x":-6,"y":20,"v":1},{"x":-5,"y":20,"v":1},{"x":-4,"y":20,"v":1},{"x":-3,"y":20,"v":2},{"x":-2,"y":20,"v":2},{"x":-1,"y":20,"v":2},{"x":0,"y":20,"v":2},{"x":1,"y":20,"v":2},{"x":2,"y":20,"v":2},{"x":3,"y":20,"v":2},{"x":4,"y":20,"v":1},{"x":5,"y":20,"v":1},{"x":6,"y":20,"v":1},{"x":7,"y":20,"v":1},{"x":8,"y":20,"v":1},{"x":9,"y":20,"v":1},{"x":10,"y":20,"v":1},{"x":11,"y":20,"v":0},{"x":12,"y":20,"v":0},{"x":13,"y":20,"v":0},{"x":14,"y":20,"v":0},{"x":15,"y":20,"v":0},{"x":16,"y":20,"v":0},{"x":17,"y":20,"v":0},{"x":18,"y":20,"v":0},{"x":19,"y":20,"v":0},{"x":20,"y":20,"v":0},{"x":21,"y":20,"v":0},{"x":22,"y":20,"v":0},{"x":23,"y":20,"v":0},{"x":24,"y":20,"v":0},
{"x":-25,"y":21,"v":0},{"x":-24,"y":21,"v":0},{"x":-23,"y":21,"v":0},{"x":-22,"y":21,"v":0},{"x":-21,"y":21,"v":0},{"x":-20,"y":21,"v":0},{"x":-19,"y":21,"v":0},{"x":-18,"y":21,"v":0},{"x":-17,"y":21,"v":0},{"x":-16,"y":21,"v":0},{"x":-15,"y":21,"v":0},{"x":-14,"y":21,"v":0},{"x":-13,"y":21,"v":0},{"x":-12,"y":21,"v":0},{"x":-11,"y":21,"v":0},{"x":-10,"y":21,"v":0},{"x":-9,"y":21,"v":0},{"x":-8,"y":21,"v":1},{"x":-7,"y":21,"v":1},{"x":-6,"y":21,"v":1},{"x":-5,"y":21,"v":1},{"x":-4,"y":21,"v":1},{"x":-3,"y":21,"v":1},{"x":-2,"y":21,"v":1},{"x":-1,"y":21,"v":1},{"x":0,"y":21,"v":1},{"x":1,"y":21,"v":1},{"x":2,"y":21,"v":1},{"x":3,"y":21,"v":1},{"x":4,"y":21,"v":1},{"x":5,"y":21,"v":1},{"x":6,"y":21,"v":1},{"x":7,"y":21,"v":1},{"x":8,"y":21,"v":1},{"x":9,"y":21,"v":0},{"x":10,"y":21,"v":0},{"x":11,"y":21,"v":0},{"x":12,"y":21,"v":0},{"x":13,"y":21,"v":0},{"x":14,"y":21,"v":0},{"x":15,"y":21,"v":0},{"x":16,"y":21,"v":0},{"x":17,"y":21,"v":0},{"x":18,"y":21,"v":0},{"x":19,"y":21,"v":0},{"x":20,"y":21,"v":0},{"x":21,"y":21,"v":0},{"x":22,"y":21,"v":0},{"x":23,"y":21,"v":0},{"x":24,"y":21,"v":0},
{"x":-25,"y":22,"v":0},{"x":-24,"y":22,"v":0},{"x":-23,"y":22,"v":0},{"x":-22,"y":22,"v":0},{"x":-21,"y":22,"v":0},{"x":-20,"y":22,"v":0},{"x":-19,"y":22,"v":0},{"x":-18,"y":22,"v":0},{"x":-17,"y":22,"v":0},{"x":-16,"y":22,"v":0},{"x":-15,"y":22,"v":0},{"x":-14,"y":22,"v":0},{"x":-13,"y":22,"v":0},{"x":-12,"y":22,"v":0},{"x":-11,"y":22,"v":0},{"x":-10,"y":22,"v":0},{"x":-9,"y":22,"v":0},{"x":-8,"y":22,"v":0},{"x":-7,"y":22,"v":0},{"x":-6,"y":22,"v":0},{"x":-5,"y":22,"v":1},{"x":-4,"y":22,"v":1},{"x":-3,"y":22,"v":1},{"x":-2,"y":22,"v":1},{"x":-1,"y":22,"v":1},{"x":0,"y":22,"v":1},{"x":1,"y":22,"v":1},{"x":2,"y":22,"v":1},{"x":3,"y":22,"v":1},{"x":4,"y":22,"v":1},{"x":5,"y":22,"v":1},{"x":6,"y":22,"v":0},{"x":7,"y":22,"v":0},{"x":8,"y":22,"v":0},{"x":9,"y":22,"v":0},{"x":10,"y":22,"v":0},{"x":11,"y":22,"v":0},{"x":12,"y":22,"v":0},{"x":13,"y":22,"v":0},{"x":14,"y":22,"v":0},{"x":15,"y":22,"v":0},{"x":16,"y":22,"v":0},{"x":17,"y":22,"v":0},{"x":18,"y":22,"v":0},{"x":19,"y":22,"v":0},{"x":20,"y":22,"v":0},{"x":21,"y":22,"v":0},{"x":22,"y":22,"v":0},{"x":23,"y":22,"v":0},{"x":24,"y":22,"v":0},
{"x":-25,"y":23,"v":0},{"x":-24,"y":23,"v":0},{"x":-23,"y":23,"v":0},{"x":-22,"y":23,"v":0},{"x":-21,"y":23,"v":0},{"x":-20,"y":23,"v":0},{"x":-19,"y":23,"v":0},{"x":-18,"y":23,"v":0},{"x":-17,"y":23,"v":0},{"x":-16,"y":23,"v":0},{"x":-15,"y":23,"v":0},{"x":-14,"y":23,"v":0},{"x":-13,"y":23,"v":0},{"x":-12,"y":23,"v":0},{"x":-11,"y":23,"v":0},{"x":-10,"y":23,"v":0},{"x":-9,"y":23,"v":0},{"x":-8,"y":23,"v":0},{"x":-7,"y":23,"v":0},{"x":-6,"y":23,"v":0},{"x":-5,"y":23,"v":0},{"x":-4,"y":23,"v":0},{"x":-3,"y":23,"v":0},{"x":-2,"y":23,"v":0},{"x":-1,"y":23,"v":0},{"x":0,"y":23,"v":0},{"x":1,"y":23,"v":0},{"x":2,"y":23,"v":0},{"x":3,"y":23,"v":0},{"x":4,"y":23,"v":0},{"x":5,"y":23,"v":0},{"x":6,"y":23,"v":0},{"x":7,"y":23,"v":0},{"x":8,"y":23,"v":0},{"x":9,"y":23,"v":0},{"x":10,"y":23,"v":0},{"x":11,"y":23,"v":0},{"x":12,"y":23,"v":0},{"x":13,"y":23,"v":0},{"x":14,"y":23,"v":0},{"x":15,"y":23,"v":0},{"x":16,"y":23,"v":0},{"x":17,"y":23,"v":0},{"x":18,"y":23,"v":0},{"x":19,"y":23,"v":0},{"x":20,"y":23,"v":0},{"x":21,"y":23,"v":0},{"x":22,"y":23,"v":0},{"x":23,"y":23,"v":0},{"x":24,"y":23,"v":0},
{"x":-25,"y":24,"v":0},{"x":-24,"y":24,"v":0},{"x":-23,"y":24,"v":0},{"x":-22,"y":24,"v":0},{"x":-21,"y":24,"v":0},{"x":-20,"y":24,"v":0},{"x":-19,"y":24,"v":0},{"x":-18,"y":24,"v":0},{"x":-17,"y":24,"v":0},{"x":-16,"y":24,"v":0},{"x":-15,"y":24,"v":0},{"x":-14,"y":24,"v":0},{"x":-13,"y":24,"v":0},{"x":-12,"y":24,"v":0},{"x":-11,"y":24,"v":0},{"x":-10,"y":24,"v":0},{"x":-9,"y":24,"v":0},{"x":-8,"y":24,"v":0},{"x":-7,"y":24,"v":0},{"x":-6,"y":24,"v":0},{"x":-5,"y":24,"v":0},{"x":-4,"y":24,"v":0},{"x":-3,"y":24,"v":0},{"x":-2,"y":24,"v":0},{"x":-1,"y":24,"v":0},{"x":0,"y":24,"v":0},{"x":1,"y":24,"v":0},{"x":2,"y":24,"v":0},{"x":3,"y":24,"v":0},{"x":4,"y":24,"v":0},{"x":5,"y":24,"v":0},{"x":6,"y":24,"v":0},{"x":7,"y":24,"v":0},{"x":8,"y":24,"v":0},{"x":9,"y":24,"v":0},{"x":10,"y":24,"v":0},{"x":11,"y":24,"v":0},{"x":12,"y":24,"v":0},{"x":13,"y":24,"v":0},{"x":14,"y":24,"v":0},{"x":15,"y":24,"v":0},{"x":16,"y":24,"v":0},{"x":17,"y":24,"v":0},{"x":18,"y":24,"v":0},{"x":19,"y":24,"v":0},{"x":20,"y":24,"v":0},{"x":21,"y":24,"v":0},{"x":22,"y":24,"v":0},{"x":23,"y":24,"v":0},{"x":24,"y":24,"v":0}
]},
"mark":{"type":"rect","strokeWidth":0.7},
"encoding":{
"x":{"field":"x","type":"ordinal","scale":{"paddingInner":0,"paddingOuter":0},"axis":{"values":[-25,-15,-5,5,15],"title":null,"labelAngle":0,"orient":"bottom"}},
"y":{"field":"y","type":"ordinal","scale":{"paddingInner":0,"paddingOuter":0},"axis":{"values":[-25,-15,-5,5,15],"title":null,"orient":"left"}},
"color":{"field":"v","type":"quantitative","scale":{"domain":[0,100],"range":["#000000","#ffffff"],"interpolate":"rgb"},"legend":null},
"stroke":{"field":"v","type":"quantitative","scale":{"domain":[0,100],"range":["#000000","#ffffff"],"interpolate":"rgb"},"legend":null}
},
"config":{"view":{"stroke":"#000000","strokeWidth":1},"axis":{"labelFont":"DejaVu Sans","labelFontSize":13.9,"labelColor":"#000000","tickColor":"#000000","tickSize":4.9,"tickWidth":1.1,"labelPadding":4.9,"domain":false,"grid":false}}
}
